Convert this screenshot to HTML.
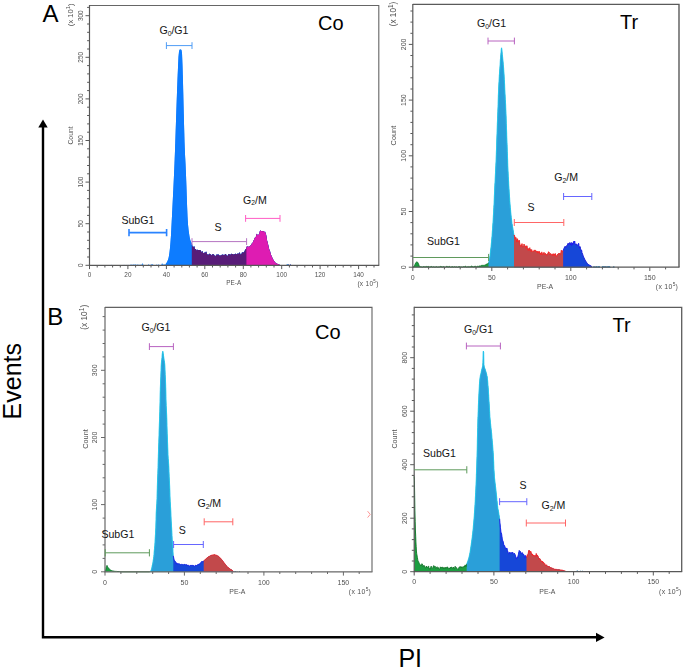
<!DOCTYPE html>
<html><head><meta charset="utf-8"><title>Cell cycle</title>
<style>html,body{margin:0;padding:0;background:#fff}svg{display:block}</style></head>
<body>
<svg width="685" height="668" viewBox="0 0 685 668" style="font-family:'Liberation Sans',Arial,Helvetica,sans-serif">
<rect width="685" height="668" fill="#fff"/>
<defs><filter id="soft" x="0" y="0" width="685" height="668" filterUnits="userSpaceOnUse"><feGaussianBlur stdDeviation="0.35"/></filter></defs>
<g filter="url(#soft)">
<path d="M89.5 265.3L108.5 265.3L109 265.1L110 265.1L110.5 265.3L111 265.2L111.5 264.7L112 265L112.5 265.1L113 265.1L113.5 265.3L114 265.3L114.5 265L115 265.1L115.5 265.3L116 265.2L116.5 265.1L117 264.9L117.5 265L118 265.2L118.5 265L119 265.3L119.5 265.3L120 265.2L120.5 265.1L121 265L121.5 265.3L122 265.3L122.5 265.2L123 265.3L123.5 265.3L124 264.7L124.5 265L125 265L125.5 264.9L126 265.1L126.5 265.3L127 264.8L127.5 265.3L128 265.3L128.5 264.8L129 265.3L129.5 265.3L130 265L130.5 264.7L131 264.2L131.5 264.6L132 265.3L132.5 264.9L133 263.9L133.5 264.6L134 264.9L134.5 264.6L135 264.5L135.5 264.5L136 264.2L136.5 265L137 265.1L137.5 264.2L138 264.7L138.5 264.4L139 265.3L139.5 265.3L140 264.1L140.5 265.1L141 265.1L141.5 264.7L142 263.8L142.5 263.3L143 263.8L143.5 264.9L144 265.3L144.5 265.2L145 265.2L145.5 265.3L146 265.3L146.5 265.2L147 265.2L147.5 265.3L148 265.3L148.5 264.1L149 264.3L149.5 265.3L150 265.1L150.5 264.8L151 264.8L151.5 264.2L152 263.9L152.5 263.9L153 264.9L153.5 264.7L154 265.1L154.5 265.3L155 265.1L155.5 265.3L156 265L156.5 264.6L157 264.4L157.5 265L158 265.1L158.5 264.2L159 264.5L159.5 265.3L161 265.3L161.5 264.3L162 263.3L162.5 263.6L163 264.2L163.5 264.7L164 264.2L164.5 264.2L165 264.8L165.5 264.3L166 263.6L166.5 262.9L167 262.1L167.5 261L168 259.7L168.5 258.2L169 255.8L169.5 252.2L170 247.9L170.5 242.3L171 235.2L171.5 225.8L172 216L172.5 205.9L173 196L173.5 185.9L174 175.3L174.5 163.9L175 151L175.5 136.6L176 121.2L176.5 106.7L177 92.5L177.5 79.6L178 67.8L178.5 57.1L179 51.7L179.5 49.7L180 49.5L181 49.5L181.5 50.3L182 53.3L182.5 66L183 83L183.5 103.9L184 123.6L184.5 142L185 154.5L185.5 163.8L186 175.2L186.5 188.8L187 203.9L187.5 216.4L188 224.5L188.5 229.5L189 233.3L189.5 236.5L190 239.1L190.5 240.7L191 241.8L191.5 242.8L192 243.7L192.5 246.4L193 246.6L193.5 247.1L194 246.3L194.5 246.6L195 249.2L195.5 249L196 249L196.5 250.6L197 250.1L197.5 249.4L198 250.3L198.5 250.1L199 250L199.5 250.1L200 250.1L200.5 250.3L201 250.7L201.5 252.4L202 251.3L202.5 251.1L203 252.7L203.5 252.9L204 253L204.5 252.6L205 252.5L205.5 252.4L206 251.6L206.5 252.1L207 253.9L207.5 254.6L208 254.4L208.5 254.7L209 254L209.5 253.5L210 254.2L210.5 254.1L211 254.8L211.5 255.4L212 254.5L212.5 253.9L213 254.5L213.5 254.1L214 254.6L214.5 255.7L215 255.3L215.5 256.5L216 255.5L216.5 254L217 255.4L217.5 254.6L218 253.9L218.5 254.6L219 255.2L219.5 255.3L220 255.8L220.5 255.4L221 254.9L221.5 255.2L222 254.5L222.5 254.4L223 254.8L223.5 254.8L224 255.3L224.5 255L225 254L225.5 254L226 254.2L226.5 254.9L227 255.7L227.5 255.9L228 254.8L228.5 254.1L229 254L229.5 254.1L230 255L230.5 254.5L231 253.7L231.5 253.7L232 254L232.5 253.9L233 253.9L233.5 254.5L234 254.5L234.5 254L235 254L235.5 253.6L236 253.9L236.5 254.2L237 254L237.5 253.7L238 253.1L238.5 253.7L239 253.8L239.5 252.1L240 253.1L240.5 254.6L241 254.2L241.5 253.8L242 252.2L242.5 251.9L243 252.9L243.5 252.3L244 252L244.5 251.2L245 250.1L245.5 249.3L246 249.1L246.5 247.6L247 246.1L247.5 246.8L248 246.6L248.5 246.8L249 246.9L249.5 246.2L250 245.9L250.5 245.4L251 245.1L251.5 244.5L252 243L252.5 242.9L253 241.9L253.5 240.7L254 239.7L254.5 238.4L255 237.4L255.5 237.1L256 236.7L256.5 234.3L257 233.7L257.5 234.9L258 235L258.5 234.7L259 234.2L259.5 232.7L260 230.6L260.5 230.6L261 231.2L261.5 231L262 231.2L262.5 231.2L263 231.3L263.5 231L264 231.8L264.5 232L265 231.5L265.5 233L266 234.2L266.5 236.8L267 240.2L267.5 242.1L268 244L268.5 246.3L269 248.4L269.5 250.2L270 251L270.5 253.3L271 255.1L271.5 255.7L272 257L272.5 258.2L273 259.2L273.5 260L274 260.8L274.5 261.5L275 262.2L275.5 262.7L276 263L276.5 263.4L277 263.6L277.5 263.9L278 264.1L278.5 264.3L279 264.5L279.5 264.7L280 264.9L280.5 265.1L281 265.3L282.5 265.3L283 265.1L283.5 265.2L284 265.3L284.5 265.3L285 265.2L285.5 265.3L286 265.3L286.5 265.2L287 264.6L287.5 264.1L288 264.1L288.5 264.8L289 265.3L289.5 265.3L290 264.8L290.5 264.3L291 264.9L291.5 265.3L292 265.3Z" fill="#3b97ff"/>
<path d="M165.8 265.3L165.8 263.9L166 263.6L166.5 262.9L167 262.1L167.5 261L168 259.7L168.5 258.2L169 255.8L169.5 252.2L170 247.9L170.5 242.3L171 235.2L171.5 225.8L172 216L172.5 205.9L173 196L173.5 185.9L174 175.3L174.5 163.9L175 151L175.5 136.6L176 121.2L176.5 106.7L177 92.5L177.5 79.6L178 67.8L178.5 57.1L179 51.7L179.5 49.7L180 49.5L181 49.5L181.5 50.3L182 53.3L182.5 66L183 83L183.5 103.9L184 123.6L184.5 142L185 154.5L185.5 163.8L186 175.2L186.5 188.8L187 203.9L187.5 216.4L188 224.5L188.5 229.5L189 233.3L189.5 236.5L190 239.1L190.5 240.7L191 241.8L191.5 242.8L192 243.7L192.5 246.4L193 246.6L193.5 247.1L194 246.3L194.5 246.6L195 249.2L195.5 249L196 249L196.5 250.6L197 250.1L197.5 249.4L198 250.3L198.5 250.1L199 250L199.5 250.1L200 250.1L200.5 250.3L201 250.7L201.5 252.4L202 251.3L202.5 251.1L203 252.7L203.5 252.9L204 253L204.5 252.6L205 252.5L205.5 252.4L206 251.6L206.5 252.1L207 253.9L207.5 254.6L208 254.4L208.5 254.7L209 254L209.5 253.5L210 254.2L210.5 254.1L211 254.8L211.5 255.4L212 254.5L212.5 253.9L213 254.5L213.5 254.1L214 254.6L214.5 255.7L215 255.3L215.5 256.5L216 255.5L216.5 254L217 255.4L217.5 254.6L218 253.9L218.5 254.6L219 255.2L219.5 255.3L220 255.8L220.5 255.4L221 254.9L221.5 255.2L222 254.5L222.5 254.4L223 254.8L223.5 254.8L224 255.3L224.5 255L225 254L225.5 254L226 254.2L226.5 254.9L227 255.7L227.5 255.9L228 254.8L228.5 254.1L229 254L229.5 254.1L230 255L230.5 254.5L231 253.7L231.5 253.7L232 254L232.5 253.9L233 253.9L233.5 254.5L234 254.5L234.5 254L235 254L235.5 253.6L236 253.9L236.5 254.2L237 254L237.5 253.7L238 253.1L238.5 253.7L239 253.8L239.5 252.1L240 253.1L240.5 254.6L241 254.2L241.5 253.8L242 252.2L242.5 251.9L243 252.9L243.5 252.3L244 252L244.5 251.2L245 250.1L245.5 249.3L246 249.1L246.5 247.6L247 246.1L247.5 246.8L248 246.6L248.5 246.8L249 246.9L249.5 246.2L250 245.9L250.5 245.4L251 245.1L251.5 244.5L252 243L252.5 242.9L253 241.9L253.5 240.7L254 239.7L254.5 238.4L255 237.4L255.5 237.1L256 236.7L256.5 234.3L257 233.7L257.5 234.9L258 235L258.5 234.7L259 234.2L259.5 232.7L260 230.6L260.5 230.6L261 231.2L261.5 231L262 231.2L262.5 231.2L263 231.3L263.5 231L264 231.8L264.5 232L265 231.5L265.5 233L266 234.2L266.5 236.8L267 240.2L267.5 242.1L268 244L268.5 246.3L269 248.4L269.5 250.2L270 251L270.5 253.3L271 255.1L271.5 255.7L272 257L272.5 258.2L273 259.2L273.5 260L274 260.8L274.5 261.5L275 262.2L275.5 262.7L276 263L276.5 263.4L277 263.6L277.5 263.9L278 264.1L278.5 264.3L279 264.5L279.5 264.7L280 264.9L280.5 265.1L281 265.3L282.5 265.3L283 265.1L283.5 265.2L284 265.3L284.5 265.3L285 265.2L285.5 265.3L286 265.3L286.5 265.2L287 264.6L287.5 264.1L288 264.1L288.5 264.8L289 265.3L289.5 265.3L290 264.8L290.5 264.3L291 264.9L291.5 265.3L292 265.3Z" fill="#0a7bff"/>
<path d="M191.8 265.3L191.8 243.3L192 243.7L192.5 246.4L193 246.6L193.5 247.1L194 246.3L194.5 246.6L195 249.2L195.5 249L196 249L196.5 250.6L197 250.1L197.5 249.4L198 250.3L198.5 250.1L199 250L199.5 250.1L200 250.1L200.5 250.3L201 250.7L201.5 252.4L202 251.3L202.5 251.1L203 252.7L203.5 252.9L204 253L204.5 252.6L205 252.5L205.5 252.4L206 251.6L206.5 252.1L207 253.9L207.5 254.6L208 254.4L208.5 254.7L209 254L209.5 253.5L210 254.2L210.5 254.1L211 254.8L211.5 255.4L212 254.5L212.5 253.9L213 254.5L213.5 254.1L214 254.6L214.5 255.7L215 255.3L215.5 256.5L216 255.5L216.5 254L217 255.4L217.5 254.6L218 253.9L218.5 254.6L219 255.2L219.5 255.3L220 255.8L220.5 255.4L221 254.9L221.5 255.2L222 254.5L222.5 254.4L223 254.8L223.5 254.8L224 255.3L224.5 255L225 254L225.5 254L226 254.2L226.5 254.9L227 255.7L227.5 255.9L228 254.8L228.5 254.1L229 254L229.5 254.1L230 255L230.5 254.5L231 253.7L231.5 253.7L232 254L232.5 253.9L233 253.9L233.5 254.5L234 254.5L234.5 254L235 254L235.5 253.6L236 253.9L236.5 254.2L237 254L237.5 253.7L238 253.1L238.5 253.7L239 253.8L239.5 252.1L240 253.1L240.5 254.6L241 254.2L241.5 253.8L242 252.2L242.5 251.9L243 252.9L243.5 252.3L244 252L244.5 251.2L245 250.1L245.5 249.3L246 249.1L246.5 247.6L247 246.1L247.5 246.8L248 246.6L248.5 246.8L249 246.9L249.5 246.2L250 245.9L250.5 245.4L251 245.1L251.5 244.5L252 243L252.5 242.9L253 241.9L253.5 240.7L254 239.7L254.5 238.4L255 237.4L255.5 237.1L256 236.7L256.5 234.3L257 233.7L257.5 234.9L258 235L258.5 234.7L259 234.2L259.5 232.7L260 230.6L260.5 230.6L261 231.2L261.5 231L262 231.2L262.5 231.2L263 231.3L263.5 231L264 231.8L264.5 232L265 231.5L265.5 233L266 234.2L266.5 236.8L267 240.2L267.5 242.1L268 244L268.5 246.3L269 248.4L269.5 250.2L270 251L270.5 253.3L271 255.1L271.5 255.7L272 257L272.5 258.2L273 259.2L273.5 260L274 260.8L274.5 261.5L275 262.2L275.5 262.7L276 263L276.5 263.4L277 263.6L277.5 263.9L278 264.1L278.5 264.3L279 264.5L279.5 264.7L280 264.9L280.5 265.1L281 265.3L282.5 265.3L283 265.1L283.5 265.2L284 265.3L284.5 265.3L285 265.2L285.5 265.3L286 265.3L286.5 265.2L287 264.6L287.5 264.1L288 264.1L288.5 264.8L289 265.3L289.5 265.3L290 264.8L290.5 264.3L291 264.9L291.5 265.3L292 265.3Z" fill="#591a78"/>
<path d="M246.4 265.3L246.4 247.9L246.5 247.6L247 246.1L247.5 246.8L248 246.6L248.5 246.8L249 246.9L249.5 246.2L250 245.9L250.5 245.4L251 245.1L251.5 244.5L252 243L252.5 242.9L253 241.9L253.5 240.7L254 239.7L254.5 238.4L255 237.4L255.5 237.1L256 236.7L256.5 234.3L257 233.7L257.5 234.9L258 235L258.5 234.7L259 234.2L259.5 232.7L260 230.6L260.5 230.6L261 231.2L261.5 231L262 231.2L262.5 231.2L263 231.3L263.5 231L264 231.8L264.5 232L265 231.5L265.5 233L266 234.2L266.5 236.8L267 240.2L267.5 242.1L268 244L268.5 246.3L269 248.4L269.5 250.2L270 251L270.5 253.3L271 255.1L271.5 255.7L272 257L272.5 258.2L273 259.2L273.5 260L274 260.8L274.5 261.5L275 262.2L275.5 262.7L276 263L276.5 263.4L277 263.6L277.5 263.9L278 264.1L278.5 264.3L279 264.5L279.5 264.7L280 264.9L280.5 265.1L281 265.3L282.5 265.3L283 265.1L283.5 265.2L284 265.3L284.5 265.3L285 265.2L285.5 265.3L286 265.3L286.5 265.2L287 264.6L287.5 264.1L288 264.1L288.5 264.8L289 265.3L289.5 265.3L290 264.8L290.5 264.3L291 264.9L291.5 265.3L292 265.3Z" fill="#de1ab2"/>
<path d="M281 265.3L282.5 265.3L283 265.1L283.5 265.2L284 265.3L284.5 265.3L285 265.2L285.5 265.3L286 265.3L286.5 265.2L287 264.6L287.5 264.1L288 264.1L288.5 264.8L289 265.3L289.5 265.3L290 264.8L290.5 264.3L291 264.9L291.5 265.3L292 265.3Z" fill="#35c8ee"/>
<path d="M89.5 5.5H378.8V265.3" fill="none" stroke="#666" stroke-width="1.1"/>
<path d="M89.5 5V265.3H379.3" fill="none" stroke="#595959" stroke-width="1.2"/>
<path d="M89.5 265.3v3.8M127.9 265.3v3.8M166.4 265.3v3.8M204.8 265.3v3.8M243.3 265.3v3.8M281.7 265.3v3.8M320.1 265.3v3.8M358.6 265.3v3.8M97.2 265.3v2.2M104.9 265.3v2.2M112.6 265.3v2.2M120.3 265.3v2.2M135.6 265.3v2.2M143.3 265.3v2.2M151 265.3v2.2M158.7 265.3v2.2M174.1 265.3v2.2M181.8 265.3v2.2M189.4 265.3v2.2M197.1 265.3v2.2M212.5 265.3v2.2M220.2 265.3v2.2M227.9 265.3v2.2M235.6 265.3v2.2M250.9 265.3v2.2M258.6 265.3v2.2M266.3 265.3v2.2M274 265.3v2.2M289.4 265.3v2.2M297.1 265.3v2.2M304.8 265.3v2.2M312.5 265.3v2.2M327.8 265.3v2.2M335.5 265.3v2.2M343.2 265.3v2.2M350.9 265.3v2.2M366.3 265.3v2.2M374 265.3v2.2M89.5 265.3h-4M89.5 223.7h-4M89.5 182.1h-4M89.5 140.5h-4M89.5 98.9h-4M89.5 57.3h-4M89.5 15.7h-4M89.5 257h-2.4M89.5 248.7h-2.4M89.5 240.3h-2.4M89.5 232h-2.4M89.5 215.4h-2.4M89.5 207.1h-2.4M89.5 198.7h-2.4M89.5 190.4h-2.4M89.5 173.8h-2.4M89.5 165.5h-2.4M89.5 157.1h-2.4M89.5 148.8h-2.4M89.5 132.2h-2.4M89.5 123.9h-2.4M89.5 115.5h-2.4M89.5 107.2h-2.4M89.5 90.6h-2.4M89.5 82.3h-2.4M89.5 73.9h-2.4M89.5 65.6h-2.4M89.5 49h-2.4M89.5 40.7h-2.4M89.5 32.3h-2.4M89.5 24h-2.4M89.5 7.4h-2.4" stroke="#595959" stroke-width="1" fill="none"/>
<text x="89.5" y="276.9" font-size="6.4" text-anchor="middle" fill="#505050">0</text>
<text x="127.9" y="276.9" font-size="6.4" text-anchor="middle" fill="#505050">20</text>
<text x="166.4" y="276.9" font-size="6.4" text-anchor="middle" fill="#505050">40</text>
<text x="204.8" y="276.9" font-size="6.4" text-anchor="middle" fill="#505050">60</text>
<text x="243.3" y="276.9" font-size="6.4" text-anchor="middle" fill="#505050">80</text>
<text x="281.7" y="276.9" font-size="6.4" text-anchor="middle" fill="#505050">100</text>
<text x="320.1" y="276.9" font-size="6.4" text-anchor="middle" fill="#505050">120</text>
<text x="358.6" y="276.9" font-size="6.4" text-anchor="middle" fill="#505050">140</text>
<text transform="translate(82.7 265.3) rotate(-90)" font-size="6.4" text-anchor="middle" fill="#505050">0</text>
<text transform="translate(82.7 223.7) rotate(-90)" font-size="6.4" text-anchor="middle" fill="#505050">50</text>
<text transform="translate(82.7 182.1) rotate(-90)" font-size="6.4" text-anchor="middle" fill="#505050">100</text>
<text transform="translate(82.7 140.5) rotate(-90)" font-size="6.4" text-anchor="middle" fill="#505050">150</text>
<text transform="translate(82.7 98.9) rotate(-90)" font-size="6.4" text-anchor="middle" fill="#505050">200</text>
<text transform="translate(82.7 57.3) rotate(-90)" font-size="6.4" text-anchor="middle" fill="#505050">250</text>
<text transform="translate(82.7 15.7) rotate(-90)" font-size="6.4" text-anchor="middle" fill="#505050">300</text>
<text x="233.8" y="284.9" font-size="6.4" text-anchor="middle" fill="#505050">PE-A</text>
<text x="368" y="285.7" font-size="6.5" letter-spacing="0.3" text-anchor="middle" fill="#505050">(x 10<tspan font-size="4.5" dy="-3.1">5</tspan><tspan dy="3.1">)</tspan></text>
<text transform="translate(73.3 14.8) rotate(-90)" font-size="7.6" text-anchor="middle" fill="#505050">(x 10<tspan font-size="5.9" dy="-3.3">1</tspan><tspan dy="3.3">)</tspan></text>
<text transform="translate(72.9 135.5) rotate(-90)" font-size="6.8" text-anchor="middle" fill="#505050">Count</text>
<path d="M129 232.6H166.6M129 229V236.2M166.6 229V236.2" stroke="#2b83ff" stroke-width="1.6" fill="none"/>
<path d="M166.4 45.6H192M166.4 42.2V49M192 42.2V49" stroke="#4f9cf5" stroke-width="1.0" fill="none"/>
<path d="M192 241.6H246.6M192 238.2V245M246.6 238.2V245" stroke="#b574c2" stroke-width="1.0" fill="none"/>
<path d="M245.6 218.4H280M245.6 215V221.8M280 215V221.8" stroke="#ff5cc4" stroke-width="1.0" fill="none"/>
<path d="M412.8 267.2L413.6 267.2L413.8 266.4L414.1 266.2L414.3 265.8L414.6 265.6L414.8 264.7L415.1 264.4L415.3 263.8L415.6 263.1L415.8 263.1L416.1 262.5L416.3 262.2L416.6 262L416.8 261.8L417.1 262.1L417.3 262.1L417.6 262.4L417.8 262.6L418.1 262.9L418.3 263.4L418.6 264.1L418.8 264.8L419.1 265.5L419.3 266.2L419.6 266.6L419.8 266.7L420.1 266.8L420.3 266.8L420.6 266.6L420.8 266.7L421.3 266.7L421.6 266.9L422.1 266.9L422.3 267L422.6 267L422.8 266.9L423.1 266.8L423.3 266.6L423.6 266.6L423.8 266.7L424.1 266.8L424.3 266.6L424.6 266.9L424.8 266.8L425.1 266.8L425.3 266.9L425.6 266.7L425.8 266.5L426.1 266.4L426.3 266.5L426.6 266.4L426.8 266.7L427.1 266.8L427.3 266.8L427.6 266.7L427.8 266.6L428.1 266.6L428.3 266.5L428.6 266.6L428.8 266.6L429.1 266.8L429.3 266.7L429.6 266.9L429.8 267.1L430.1 266.9L430.3 266.9L430.6 266.7L430.8 266.7L431.1 266.6L431.3 266.4L431.6 266.6L431.8 266.5L432.1 266.7L432.3 267L432.6 267.1L432.8 267.2L433.1 267.2L433.3 267.1L433.6 266.7L433.8 266.6L434.1 266.9L434.3 266.9L434.6 267.1L434.8 267L435.1 266.8L435.3 266.9L435.6 267L435.8 266.9L436.1 266.8L436.3 266.8L436.6 266.6L436.8 266.9L437.1 267L437.3 266.9L437.6 267.1L437.8 267.1L438.1 267L438.3 267L438.6 266.9L438.8 266.8L439.1 267L439.3 267.1L439.6 266.7L439.8 266.7L440.1 266.4L440.3 266.4L440.6 266.6L440.8 266.4L441.1 266.5L441.3 266.5L441.6 266.8L441.8 266.8L442.1 267L442.3 267.1L442.6 266.8L442.8 266.7L443.1 266.6L443.3 266.4L443.6 266.7L443.8 266.8L444.1 266.9L444.3 267L444.8 267L445.1 267.2L445.3 267.1L445.6 267L445.8 266.8L446.1 266.6L446.3 266.5L446.6 266.3L446.8 266.6L447.1 266.7L447.3 266.6L447.6 266.7L447.8 266.6L448.1 266.8L448.6 266.8L448.8 266.9L449.1 266.5L449.3 266.4L449.6 266.5L449.8 266.6L450.1 266.9L450.3 267L450.6 267.1L450.8 267.1L451.1 267L451.3 267L451.6 266.8L451.8 266.7L452.1 266.7L452.3 266.6L452.6 266.7L452.8 267L453.1 266.8L453.3 267.1L453.6 267.2L453.8 266.9L454.1 266.9L454.3 266.7L454.6 266.7L454.8 266.8L455.1 267.1L455.3 267L455.6 266.9L455.8 266.8L456.1 266.7L456.3 266.8L456.6 266.8L456.8 266.9L457.1 267L457.3 267L457.6 267.2L457.8 267.1L458.1 266.9L458.3 266.8L459.1 266.8L459.3 266.7L459.6 266.7L459.8 266.6L460.1 266.7L460.3 267.1L460.6 267.1L460.8 267.2L461.1 267.2L461.3 267L461.6 266.9L461.8 266.8L462.1 266.9L462.3 267L462.6 266.9L462.8 267L463.1 266.8L463.3 266.7L463.6 266.6L463.8 266.7L464.1 266.9L464.3 266.7L464.6 266.7L464.8 266.6L465.1 266.3L465.3 266.2L465.6 266.3L465.8 266.3L466.1 266.7L466.3 267L466.6 267.2L466.8 267.1L467.1 266.9L467.3 266.8L467.6 266.7L467.8 266.9L468.1 266.8L468.3 266.9L468.6 266.7L468.8 266.5L469.1 266.6L469.3 266.6L469.6 266.9L470.3 266.9L470.6 266.6L470.8 266.5L471.1 266.4L471.3 266L471.6 266.1L471.8 266L472.1 266.1L472.3 266.5L472.6 266.5L472.8 266.8L473.1 267.1L473.3 266.9L473.6 266.8L473.8 266.8L474.1 266.3L474.3 266.4L475.8 266.4L476.1 266.6L476.3 266.7L476.8 266.7L477.1 266.5L477.3 266.5L477.6 266.3L477.8 266.2L478.1 266.4L478.3 266.2L478.6 266.3L478.8 266.2L479.1 266L479.3 265.9L479.6 266L479.8 266.1L480.1 265.9L480.3 265.9L480.6 266L480.8 265.9L481.1 265.8L481.3 265.6L481.6 265.3L482.1 265.3L482.3 265.4L482.6 265.4L482.8 265.2L483.1 265.3L483.3 265.1L483.6 265.2L483.8 265.4L484.3 265.4L484.6 265.2L484.8 265.1L485.1 265L485.3 264.9L485.6 264.7L485.8 264.6L486.1 264.3L486.3 264.2L486.6 264.3L486.8 264.1L487.1 263.9L487.3 264.1L487.6 263.7L487.8 263.6L488.1 263.3L488.3 263L488.6 262.6L488.8 262L489.1 261L489.3 259.8L489.6 258.5L489.8 257.1L490.1 255.3L490.3 253.2L490.6 251L490.8 248.7L491.1 246.4L491.3 244L491.6 241.4L491.8 238.5L492.1 235.4L492.3 232.1L492.6 228.6L492.8 224.9L493.1 221L493.3 216.8L493.6 212.4L493.8 207.7L494.1 202.8L494.3 197.2L494.6 191.4L494.8 185.8L495.1 180.8L495.3 176L495.6 171.1L495.8 165.7L496.1 160L496.3 153.8L496.6 146.9L496.8 138.9L497.1 131.1L497.3 124.4L497.6 118.3L497.8 111.8L498.1 104.2L498.3 96.4L498.6 90.3L498.8 84.9L499.1 80.1L499.3 75.8L499.6 72.1L499.8 68.7L500.1 64.8L500.3 60.6L500.6 57.4L500.8 54.8L501.1 51.7L501.3 48.9L501.6 47.8L501.8 48.9L502.1 51.8L502.3 54.7L502.6 56.9L502.8 59.2L503.1 61.8L503.3 64.7L503.6 67.8L503.8 71.2L504.1 75L504.3 79.4L504.6 84.4L504.8 89.7L505.1 94.8L505.3 99.5L505.6 104.2L505.8 109.5L506.1 115.8L506.3 123.6L506.6 131.1L506.8 137.9L507.1 144.6L507.3 151.6L507.6 159.3L507.8 166.2L508.1 171.8L508.3 176.8L508.6 181.5L508.8 185.8L509.1 190L509.3 194L509.6 197.8L509.8 201.3L510.1 204.4L510.3 207.4L510.6 210.2L510.8 212.8L511.1 215.4L511.3 217.7L511.6 219.8L511.8 221.8L512 223.5L512.3 225.1L512.5 226.5L512.8 227.9L513 229.2L513.3 230.7L513.5 232.4L513.8 234.1L514 235.1L514.3 235.7L514.5 235.3L514.8 236.5L515 237.4L515.3 238.6L515.5 237.8L515.8 237.6L516 237.4L516.3 239.6L516.5 239.7L516.8 242.1L517 240.3L517.3 240.7L517.5 238.7L517.8 240.9L518 241.8L518.3 241.7L518.5 241.2L518.8 240.5L519 240.4L519.3 240.1L519.5 242L519.8 243.8L520 245.2L520.3 244.9L520.5 245.9L520.8 246.8L521 246.9L521.3 246.2L521.5 244.8L521.8 244.7L522 243.6L522.3 245.4L522.5 246.4L522.8 247.3L523 246.5L523.3 246.4L523.5 246.2L523.8 245.4L524 244L524.3 244.9L524.5 245.8L524.8 246.6L525 246.4L525.3 245.8L525.5 246.4L525.8 246.3L526 248.6L526.3 247.8L526.5 247.1L526.8 245.8L527 245.7L527.3 248L527.5 248.4L527.8 250.2L528 249.1L528.3 248.7L528.5 248.7L528.8 249.7L529 250.6L529.3 248.3L529.5 248L529.8 247.7L530 249.3L530.3 249.2L530.5 249.6L530.8 250.9L531 251.7L531.3 250.6L531.5 249.7L531.8 249.6L532 251.7L532.3 252L532.5 251.8L532.8 251.4L533 250.9L533.3 251.4L533.5 251.1L533.8 251.2L534 250.7L534.3 249.9L534.5 250.7L534.8 251.2L535 251.7L535.3 251.5L535.5 250.4L535.8 250.5L536 250.7L536.3 251.3L536.5 251.2L536.8 252L537 252.4L537.3 253.1L537.5 251.6L537.8 251.9L538 251.1L538.3 252.8L538.5 252.5L538.8 252.6L539 252L539.3 251.3L539.5 253.4L539.8 253.3L540 254L540.3 252.8L540.5 253.8L540.8 253.6L541 255L541.3 253.6L541.5 253.9L541.8 251.9L542 252.7L542.3 253.6L542.5 254.6L542.8 254.8L543 253.8L543.3 253.7L543.5 253.2L543.8 253.3L544 252.3L544.3 253.8L544.5 254.4L544.8 254.9L545 253.3L545.3 253.4L545.5 254L545.8 254.5L546 254.1L546.3 254.3L546.5 254.7L546.8 255.5L547 255.4L547.3 254.2L547.5 254.2L547.8 253.4L548 253.1L548.3 252.5L548.5 251.7L548.8 252.9L549 252.1L549.3 253.5L549.5 254.2L549.8 255L550 253.9L550.3 253.6L550.5 253.5L550.8 255.2L551 255.4L551.3 255.4L551.5 255L551.8 254.2L552 253.8L552.3 254.4L552.5 255.1L552.8 255.9L553 254L553.3 253.8L553.5 254.1L553.8 255.2L554 253.9L554.3 254L554.5 254.4L554.8 255.5L555 254.8L555.3 253.5L555.5 254.2L555.8 255.5L556 256.6L556.3 255.6L556.5 255.9L556.8 256.2L557 256L557.3 255L557.5 254.3L557.8 254.7L558 253.9L558.3 253.8L558.5 253.7L558.8 253.2L559 253.7L559.3 253.6L559.5 253.6L559.8 253.4L560 253.6L560.3 254.6L560.5 254.7L560.8 253.1L561 252.2L561.3 250.2L561.5 250.8L561.8 250.8L562 251.9L562.3 252L562.5 251.8L562.8 250.7L563 251.1L563.3 250.4L563.5 250L563.8 248.7L564 248.4L564.3 247.9L564.5 247.1L564.8 246.7L565 246.8L565.3 247.3L565.5 246.6L565.8 246.5L566 247L566.3 247.4L566.5 246.7L566.8 245.4L567 245.6L567.3 245.4L567.5 245L567.8 243.9L568 243.3L568.3 243.8L568.5 243.7L568.8 244.8L569 243.8L569.3 243.3L569.5 242.7L569.8 242.8L570 244L570.3 243.8L570.5 245L570.8 243L571 242.5L571.3 242.7L571.5 245.8L571.8 245.6L572 245L572.3 242.8L572.5 244.4L572.8 243.6L573 244.3L573.3 242.8L573.5 242.9L573.8 241.4L574 242.2L574.3 241.1L574.5 242.2L574.8 241.4L575 243.4L575.3 244.7L575.5 244.5L575.8 244.4L576 243.7L576.3 244.8L576.5 244.8L576.8 244.6L577 245.5L577.3 245.8L577.5 245.5L577.8 245.3L578 244.2L578.3 244.6L578.5 243.3L578.8 243.7L579 245.7L579.3 247.4L579.5 248.3L579.8 246.8L580 246.6L580.3 247.3L580.5 248.5L580.8 249.7L581 249.6L581.3 250.5L581.5 250.1L581.8 250.9L582 252.7L582.3 253.3L582.5 254L582.8 254.7L583 255.4L583.3 256L583.5 256.6L583.8 257.2L584 257.7L584.3 258.3L584.5 258.8L584.8 259.3L585 259.9L585.3 260.3L585.5 260.8L585.8 261.2L586 261.6L586.3 262L586.5 262.4L586.8 262.7L587 263.1L587.3 263.4L587.5 263.7L587.8 263.9L588 264.2L588.3 264.4L588.5 264.5L588.8 264.7L589 264.9L589.3 265L589.5 265.1L589.8 265.3L590 265.4L590.3 265.5L590.5 265.7L590.8 265.8L591 266L591.3 266.1L591.5 266.3L591.8 266.5L592 267.1L592.3 267L592.5 267.2L592.8 267.2L593 266.9L593.3 266.7L593.5 266.7L593.8 266.8L594 266.9L594.3 267L594.5 266.7L594.8 266.6L595 266.6L595.3 266.7L595.5 267L595.8 267L596 266.8L596.3 266.6L596.5 266.2L596.8 266L597 266.4L597.3 266.7L597.5 266.9L597.8 267.2L598 266.7L598.3 266.3L598.5 266.3L598.8 266.1L599 266.4L599.3 266.5L599.5 266.5L599.8 266.9L600 267L600.3 267.2L601.3 267.2L601.5 267.1L601.8 266.9L602 266.7L602.3 266.7L602.5 266L602.8 266L603 266.7L603.3 266.6L603.5 266.7L603.8 266.7L604 266.5L604.3 266.5L604.5 266.7L604.8 267L605 266.8L605.5 266.8L605.8 266.6L606 266.8L606.3 266.8L606.5 266.9L606.8 266.8L607 266.8L607.3 266.7L607.5 266.9L607.8 266.5L608 266.4L608.3 266.4L608.5 266.1L608.8 266.4L609.3 266.4L609.5 266.6L609.8 266.8L610 266.8L610.3 266.9L610.5 267.2L610.8 266.9L611 267.2L611.3 267.2L611.5 267L611.8 267.2L612.5 267.2L612.8 267.1L613 267.1L613.3 266.8L613.5 266.7L613.8 266.7L614 266.5L614.3 266.9L614.5 267.2L614.8 267.2Z" fill="#1c9d40"/>
<path d="M488.5 267.2L488.5 262.7L488.6 262.6L488.8 262L489.1 261L489.3 259.8L489.6 258.5L489.8 257.1L490.1 255.3L490.3 253.2L490.6 251L490.8 248.7L491.1 246.4L491.3 244L491.6 241.4L491.8 238.5L492.1 235.4L492.3 232.1L492.6 228.6L492.8 224.9L493.1 221L493.3 216.8L493.6 212.4L493.8 207.7L494.1 202.8L494.3 197.2L494.6 191.4L494.8 185.8L495.1 180.8L495.3 176L495.6 171.1L495.8 165.7L496.1 160L496.3 153.8L496.6 146.9L496.8 138.9L497.1 131.1L497.3 124.4L497.6 118.3L497.8 111.8L498.1 104.2L498.3 96.4L498.6 90.3L498.8 84.9L499.1 80.1L499.3 75.8L499.6 72.1L499.8 68.7L500.1 64.8L500.3 60.6L500.6 57.4L500.8 54.8L501.1 51.7L501.3 48.9L501.6 47.8L501.8 48.9L502.1 51.8L502.3 54.7L502.6 56.9L502.8 59.2L503.1 61.8L503.3 64.7L503.6 67.8L503.8 71.2L504.1 75L504.3 79.4L504.6 84.4L504.8 89.7L505.1 94.8L505.3 99.5L505.6 104.2L505.8 109.5L506.1 115.8L506.3 123.6L506.6 131.1L506.8 137.9L507.1 144.6L507.3 151.6L507.6 159.3L507.8 166.2L508.1 171.8L508.3 176.8L508.6 181.5L508.8 185.8L509.1 190L509.3 194L509.6 197.8L509.8 201.3L510.1 204.4L510.3 207.4L510.6 210.2L510.8 212.8L511.1 215.4L511.3 217.7L511.6 219.8L511.8 221.8L512 223.5L512.3 225.1L512.5 226.5L512.8 227.9L513 229.2L513.3 230.7L513.5 232.4L513.8 234.1L514 235.1L514.3 235.7L514.5 235.3L514.8 236.5L515 237.4L515.3 238.6L515.5 237.8L515.8 237.6L516 237.4L516.3 239.6L516.5 239.7L516.8 242.1L517 240.3L517.3 240.7L517.5 238.7L517.8 240.9L518 241.8L518.3 241.7L518.5 241.2L518.8 240.5L519 240.4L519.3 240.1L519.5 242L519.8 243.8L520 245.2L520.3 244.9L520.5 245.9L520.8 246.8L521 246.9L521.3 246.2L521.5 244.8L521.8 244.7L522 243.6L522.3 245.4L522.5 246.4L522.8 247.3L523 246.5L523.3 246.4L523.5 246.2L523.8 245.4L524 244L524.3 244.9L524.5 245.8L524.8 246.6L525 246.4L525.3 245.8L525.5 246.4L525.8 246.3L526 248.6L526.3 247.8L526.5 247.1L526.8 245.8L527 245.7L527.3 248L527.5 248.4L527.8 250.2L528 249.1L528.3 248.7L528.5 248.7L528.8 249.7L529 250.6L529.3 248.3L529.5 248L529.8 247.7L530 249.3L530.3 249.2L530.5 249.6L530.8 250.9L531 251.7L531.3 250.6L531.5 249.7L531.8 249.6L532 251.7L532.3 252L532.5 251.8L532.8 251.4L533 250.9L533.3 251.4L533.5 251.1L533.8 251.2L534 250.7L534.3 249.9L534.5 250.7L534.8 251.2L535 251.7L535.3 251.5L535.5 250.4L535.8 250.5L536 250.7L536.3 251.3L536.5 251.2L536.8 252L537 252.4L537.3 253.1L537.5 251.6L537.8 251.9L538 251.1L538.3 252.8L538.5 252.5L538.8 252.6L539 252L539.3 251.3L539.5 253.4L539.8 253.3L540 254L540.3 252.8L540.5 253.8L540.8 253.6L541 255L541.3 253.6L541.5 253.9L541.8 251.9L542 252.7L542.3 253.6L542.5 254.6L542.8 254.8L543 253.8L543.3 253.7L543.5 253.2L543.8 253.3L544 252.3L544.3 253.8L544.5 254.4L544.8 254.9L545 253.3L545.3 253.4L545.5 254L545.8 254.5L546 254.1L546.3 254.3L546.5 254.7L546.8 255.5L547 255.4L547.3 254.2L547.5 254.2L547.8 253.4L548 253.1L548.3 252.5L548.5 251.7L548.8 252.9L549 252.1L549.3 253.5L549.5 254.2L549.8 255L550 253.9L550.3 253.6L550.5 253.5L550.8 255.2L551 255.4L551.3 255.4L551.5 255L551.8 254.2L552 253.8L552.3 254.4L552.5 255.1L552.8 255.9L553 254L553.3 253.8L553.5 254.1L553.8 255.2L554 253.9L554.3 254L554.5 254.4L554.8 255.5L555 254.8L555.3 253.5L555.5 254.2L555.8 255.5L556 256.6L556.3 255.6L556.5 255.9L556.8 256.2L557 256L557.3 255L557.5 254.3L557.8 254.7L558 253.9L558.3 253.8L558.5 253.7L558.8 253.2L559 253.7L559.3 253.6L559.5 253.6L559.8 253.4L560 253.6L560.3 254.6L560.5 254.7L560.8 253.1L561 252.2L561.3 250.2L561.5 250.8L561.8 250.8L562 251.9L562.3 252L562.5 251.8L562.8 250.7L563 251.1L563.3 250.4L563.5 250L563.8 248.7L564 248.4L564.3 247.9L564.5 247.1L564.8 246.7L565 246.8L565.3 247.3L565.5 246.6L565.8 246.5L566 247L566.3 247.4L566.5 246.7L566.8 245.4L567 245.6L567.3 245.4L567.5 245L567.8 243.9L568 243.3L568.3 243.8L568.5 243.7L568.8 244.8L569 243.8L569.3 243.3L569.5 242.7L569.8 242.8L570 244L570.3 243.8L570.5 245L570.8 243L571 242.5L571.3 242.7L571.5 245.8L571.8 245.6L572 245L572.3 242.8L572.5 244.4L572.8 243.6L573 244.3L573.3 242.8L573.5 242.9L573.8 241.4L574 242.2L574.3 241.1L574.5 242.2L574.8 241.4L575 243.4L575.3 244.7L575.5 244.5L575.8 244.4L576 243.7L576.3 244.8L576.5 244.8L576.8 244.6L577 245.5L577.3 245.8L577.5 245.5L577.8 245.3L578 244.2L578.3 244.6L578.5 243.3L578.8 243.7L579 245.7L579.3 247.4L579.5 248.3L579.8 246.8L580 246.6L580.3 247.3L580.5 248.5L580.8 249.7L581 249.6L581.3 250.5L581.5 250.1L581.8 250.9L582 252.7L582.3 253.3L582.5 254L582.8 254.7L583 255.4L583.3 256L583.5 256.6L583.8 257.2L584 257.7L584.3 258.3L584.5 258.8L584.8 259.3L585 259.9L585.3 260.3L585.5 260.8L585.8 261.2L586 261.6L586.3 262L586.5 262.4L586.8 262.7L587 263.1L587.3 263.4L587.5 263.7L587.8 263.9L588 264.2L588.3 264.4L588.5 264.5L588.8 264.7L589 264.9L589.3 265L589.5 265.1L589.8 265.3L590 265.4L590.3 265.5L590.5 265.7L590.8 265.8L591 266L591.3 266.1L591.5 266.3L591.8 266.5L592 267.1L592.3 267L592.5 267.2L592.8 267.2L593 266.9L593.3 266.7L593.5 266.7L593.8 266.8L594 266.9L594.3 267L594.5 266.7L594.8 266.6L595 266.6L595.3 266.7L595.5 267L595.8 267L596 266.8L596.3 266.6L596.5 266.2L596.8 266L597 266.4L597.3 266.7L597.5 266.9L597.8 267.2L598 266.7L598.3 266.3L598.5 266.3L598.8 266.1L599 266.4L599.3 266.5L599.5 266.5L599.8 266.9L600 267L600.3 267.2L601.3 267.2L601.5 267.1L601.8 266.9L602 266.7L602.3 266.7L602.5 266L602.8 266L603 266.7L603.3 266.6L603.5 266.7L603.8 266.7L604 266.5L604.3 266.5L604.5 266.7L604.8 267L605 266.8L605.5 266.8L605.8 266.6L606 266.8L606.3 266.8L606.5 266.9L606.8 266.8L607 266.8L607.3 266.7L607.5 266.9L607.8 266.5L608 266.4L608.3 266.4L608.5 266.1L608.8 266.4L609.3 266.4L609.5 266.6L609.8 266.8L610 266.8L610.3 266.9L610.5 267.2L610.8 266.9L611 267.2L611.3 267.2L611.5 267L611.8 267.2L612.5 267.2L612.8 267.1L613 267.1L613.3 266.8L613.5 266.7L613.8 266.7L614 266.5L614.3 266.9L614.5 267.2L614.8 267.2Z" fill="#2c9fd9"/>
<path d="M514 267.2L514 234.9L514 235.1L514.3 235.7L514.5 235.3L514.8 236.5L515 237.4L515.3 238.6L515.5 237.8L515.8 237.6L516 237.4L516.3 239.6L516.5 239.7L516.8 242.1L517 240.3L517.3 240.7L517.5 238.7L517.8 240.9L518 241.8L518.3 241.7L518.5 241.2L518.8 240.5L519 240.4L519.3 240.1L519.5 242L519.8 243.8L520 245.2L520.3 244.9L520.5 245.9L520.8 246.8L521 246.9L521.3 246.2L521.5 244.8L521.8 244.7L522 243.6L522.3 245.4L522.5 246.4L522.8 247.3L523 246.5L523.3 246.4L523.5 246.2L523.8 245.4L524 244L524.3 244.9L524.5 245.8L524.8 246.6L525 246.4L525.3 245.8L525.5 246.4L525.8 246.3L526 248.6L526.3 247.8L526.5 247.1L526.8 245.8L527 245.7L527.3 248L527.5 248.4L527.8 250.2L528 249.1L528.3 248.7L528.5 248.7L528.8 249.7L529 250.6L529.3 248.3L529.5 248L529.8 247.7L530 249.3L530.3 249.2L530.5 249.6L530.8 250.9L531 251.7L531.3 250.6L531.5 249.7L531.8 249.6L532 251.7L532.3 252L532.5 251.8L532.8 251.4L533 250.9L533.3 251.4L533.5 251.1L533.8 251.2L534 250.7L534.3 249.9L534.5 250.7L534.8 251.2L535 251.7L535.3 251.5L535.5 250.4L535.8 250.5L536 250.7L536.3 251.3L536.5 251.2L536.8 252L537 252.4L537.3 253.1L537.5 251.6L537.8 251.9L538 251.1L538.3 252.8L538.5 252.5L538.8 252.6L539 252L539.3 251.3L539.5 253.4L539.8 253.3L540 254L540.3 252.8L540.5 253.8L540.8 253.6L541 255L541.3 253.6L541.5 253.9L541.8 251.9L542 252.7L542.3 253.6L542.5 254.6L542.8 254.8L543 253.8L543.3 253.7L543.5 253.2L543.8 253.3L544 252.3L544.3 253.8L544.5 254.4L544.8 254.9L545 253.3L545.3 253.4L545.5 254L545.8 254.5L546 254.1L546.3 254.3L546.5 254.7L546.8 255.5L547 255.4L547.3 254.2L547.5 254.2L547.8 253.4L548 253.1L548.3 252.5L548.5 251.7L548.8 252.9L549 252.1L549.3 253.5L549.5 254.2L549.8 255L550 253.9L550.3 253.6L550.5 253.5L550.8 255.2L551 255.4L551.3 255.4L551.5 255L551.8 254.2L552 253.8L552.3 254.4L552.5 255.1L552.8 255.9L553 254L553.3 253.8L553.5 254.1L553.8 255.2L554 253.9L554.3 254L554.5 254.4L554.8 255.5L555 254.8L555.3 253.5L555.5 254.2L555.8 255.5L556 256.6L556.3 255.6L556.5 255.9L556.8 256.2L557 256L557.3 255L557.5 254.3L557.8 254.7L558 253.9L558.3 253.8L558.5 253.7L558.8 253.2L559 253.7L559.3 253.6L559.5 253.6L559.8 253.4L560 253.6L560.3 254.6L560.5 254.7L560.8 253.1L561 252.2L561.3 250.2L561.5 250.8L561.8 250.8L562 251.9L562.3 252L562.5 251.8L562.8 250.7L563 251.1L563.3 250.4L563.5 250L563.8 248.7L564 248.4L564.3 247.9L564.5 247.1L564.8 246.7L565 246.8L565.3 247.3L565.5 246.6L565.8 246.5L566 247L566.3 247.4L566.5 246.7L566.8 245.4L567 245.6L567.3 245.4L567.5 245L567.8 243.9L568 243.3L568.3 243.8L568.5 243.7L568.8 244.8L569 243.8L569.3 243.3L569.5 242.7L569.8 242.8L570 244L570.3 243.8L570.5 245L570.8 243L571 242.5L571.3 242.7L571.5 245.8L571.8 245.6L572 245L572.3 242.8L572.5 244.4L572.8 243.6L573 244.3L573.3 242.8L573.5 242.9L573.8 241.4L574 242.2L574.3 241.1L574.5 242.2L574.8 241.4L575 243.4L575.3 244.7L575.5 244.5L575.8 244.4L576 243.7L576.3 244.8L576.5 244.8L576.8 244.6L577 245.5L577.3 245.8L577.5 245.5L577.8 245.3L578 244.2L578.3 244.6L578.5 243.3L578.8 243.7L579 245.7L579.3 247.4L579.5 248.3L579.8 246.8L580 246.6L580.3 247.3L580.5 248.5L580.8 249.7L581 249.6L581.3 250.5L581.5 250.1L581.8 250.9L582 252.7L582.3 253.3L582.5 254L582.8 254.7L583 255.4L583.3 256L583.5 256.6L583.8 257.2L584 257.7L584.3 258.3L584.5 258.8L584.8 259.3L585 259.9L585.3 260.3L585.5 260.8L585.8 261.2L586 261.6L586.3 262L586.5 262.4L586.8 262.7L587 263.1L587.3 263.4L587.5 263.7L587.8 263.9L588 264.2L588.3 264.4L588.5 264.5L588.8 264.7L589 264.9L589.3 265L589.5 265.1L589.8 265.3L590 265.4L590.3 265.5L590.5 265.7L590.8 265.8L591 266L591.3 266.1L591.5 266.3L591.8 266.5L592 267.1L592.3 267L592.5 267.2L592.8 267.2L593 266.9L593.3 266.7L593.5 266.7L593.8 266.8L594 266.9L594.3 267L594.5 266.7L594.8 266.6L595 266.6L595.3 266.7L595.5 267L595.8 267L596 266.8L596.3 266.6L596.5 266.2L596.8 266L597 266.4L597.3 266.7L597.5 266.9L597.8 267.2L598 266.7L598.3 266.3L598.5 266.3L598.8 266.1L599 266.4L599.3 266.5L599.5 266.5L599.8 266.9L600 267L600.3 267.2L601.3 267.2L601.5 267.1L601.8 266.9L602 266.7L602.3 266.7L602.5 266L602.8 266L603 266.7L603.3 266.6L603.5 266.7L603.8 266.7L604 266.5L604.3 266.5L604.5 266.7L604.8 267L605 266.8L605.5 266.8L605.8 266.6L606 266.8L606.3 266.8L606.5 266.9L606.8 266.8L607 266.8L607.3 266.7L607.5 266.9L607.8 266.5L608 266.4L608.3 266.4L608.5 266.1L608.8 266.4L609.3 266.4L609.5 266.6L609.8 266.8L610 266.8L610.3 266.9L610.5 267.2L610.8 266.9L611 267.2L611.3 267.2L611.5 267L611.8 267.2L612.5 267.2L612.8 267.1L613 267.1L613.3 266.8L613.5 266.7L613.8 266.7L614 266.5L614.3 266.9L614.5 267.2L614.8 267.2Z" fill="#c2494c"/>
<path d="M563.1 267.2L563.1 250.9L563.3 250.4L563.5 250L563.8 248.7L564 248.4L564.3 247.9L564.5 247.1L564.8 246.7L565 246.8L565.3 247.3L565.5 246.6L565.8 246.5L566 247L566.3 247.4L566.5 246.7L566.8 245.4L567 245.6L567.3 245.4L567.5 245L567.8 243.9L568 243.3L568.3 243.8L568.5 243.7L568.8 244.8L569 243.8L569.3 243.3L569.5 242.7L569.8 242.8L570 244L570.3 243.8L570.5 245L570.8 243L571 242.5L571.3 242.7L571.5 245.8L571.8 245.6L572 245L572.3 242.8L572.5 244.4L572.8 243.6L573 244.3L573.3 242.8L573.5 242.9L573.8 241.4L574 242.2L574.3 241.1L574.5 242.2L574.8 241.4L575 243.4L575.3 244.7L575.5 244.5L575.8 244.4L576 243.7L576.3 244.8L576.5 244.8L576.8 244.6L577 245.5L577.3 245.8L577.5 245.5L577.8 245.3L578 244.2L578.3 244.6L578.5 243.3L578.8 243.7L579 245.7L579.3 247.4L579.5 248.3L579.8 246.8L580 246.6L580.3 247.3L580.5 248.5L580.8 249.7L581 249.6L581.3 250.5L581.5 250.1L581.8 250.9L582 252.7L582.3 253.3L582.5 254L582.8 254.7L583 255.4L583.3 256L583.5 256.6L583.8 257.2L584 257.7L584.3 258.3L584.5 258.8L584.8 259.3L585 259.9L585.3 260.3L585.5 260.8L585.8 261.2L586 261.6L586.3 262L586.5 262.4L586.8 262.7L587 263.1L587.3 263.4L587.5 263.7L587.8 263.9L588 264.2L588.3 264.4L588.5 264.5L588.8 264.7L589 264.9L589.3 265L589.5 265.1L589.8 265.3L590 265.4L590.3 265.5L590.5 265.7L590.8 265.8L591 266L591.3 266.1L591.5 266.3L591.8 266.5L592 267.1L592.3 267L592.5 267.2L592.8 267.2L593 266.9L593.3 266.7L593.5 266.7L593.8 266.8L594 266.9L594.3 267L594.5 266.7L594.8 266.6L595 266.6L595.3 266.7L595.5 267L595.8 267L596 266.8L596.3 266.6L596.5 266.2L596.8 266L597 266.4L597.3 266.7L597.5 266.9L597.8 267.2L598 266.7L598.3 266.3L598.5 266.3L598.8 266.1L599 266.4L599.3 266.5L599.5 266.5L599.8 266.9L600 267L600.3 267.2L601.3 267.2L601.5 267.1L601.8 266.9L602 266.7L602.3 266.7L602.5 266L602.8 266L603 266.7L603.3 266.6L603.5 266.7L603.8 266.7L604 266.5L604.3 266.5L604.5 266.7L604.8 267L605 266.8L605.5 266.8L605.8 266.6L606 266.8L606.3 266.8L606.5 266.9L606.8 266.8L607 266.8L607.3 266.7L607.5 266.9L607.8 266.5L608 266.4L608.3 266.4L608.5 266.1L608.8 266.4L609.3 266.4L609.5 266.6L609.8 266.8L610 266.8L610.3 266.9L610.5 267.2L610.8 266.9L611 267.2L611.3 267.2L611.5 267L611.8 267.2L612.5 267.2L612.8 267.1L613 267.1L613.3 266.8L613.5 266.7L613.8 266.7L614 266.5L614.3 266.9L614.5 267.2L614.8 267.2Z" fill="#1946d8"/>
<path d="M592 267.2L592 267L592 267.1L592.3 267L592.5 267.2L592.8 267.2L593 266.9L593.3 266.7L593.5 266.7L593.8 266.8L594 266.9L594.3 267L594.5 266.7L594.8 266.6L595 266.6L595.3 266.7L595.5 267L595.8 267L596 266.8L596.3 266.6L596.5 266.2L596.8 266L597 266.4L597.3 266.7L597.5 266.9L597.8 267.2L598 266.7L598.3 266.3L598.5 266.3L598.8 266.1L599 266.4L599.3 266.5L599.5 266.5L599.8 266.9L600 267L600.3 267.2L601.3 267.2L601.5 267.1L601.8 266.9L602 266.7L602.3 266.7L602.5 266L602.8 266L603 266.7L603.3 266.6L603.5 266.7L603.8 266.7L604 266.5L604.3 266.5L604.5 266.7L604.8 267L605 266.8L605.5 266.8L605.8 266.6L606 266.8L606.3 266.8L606.5 266.9L606.8 266.8L607 266.8L607.3 266.7L607.5 266.9L607.8 266.5L608 266.4L608.3 266.4L608.5 266.1L608.8 266.4L609.3 266.4L609.5 266.6L609.8 266.8L610 266.8L610.3 266.9L610.5 267.2L610.8 266.9L611 267.2L611.3 267.2L611.5 267L611.8 267.2L612.5 267.2L612.8 267.1L613 267.1L613.3 266.8L613.5 266.7L613.8 266.7L614 266.5L614.3 266.9L614.5 267.2L614.8 267.2Z" fill="#35c8ee"/>
<path d="M412.8 267.2L413.6 267.2L413.8 266.4L414.1 266.2L414.3 265.8L414.6 265.6L414.8 264.7L415.1 264.4L415.3 263.8L415.6 263.1L415.8 263.1L416.1 262.5L416.3 262.2L416.6 262L416.8 261.8L417.1 262.1L417.3 262.1L417.6 262.4L417.8 262.6L418.1 262.9L418.3 263.4L418.6 264.1L418.8 264.8L419.1 265.5L419.3 266.2L419.6 266.6L419.8 266.7L420.1 266.8L420.3 266.8L420.6 266.6L420.8 266.7L421.3 266.7L421.6 266.9L422.1 266.9L422.3 267L422.6 267L422.8 266.9L423.1 266.8L423.3 266.6L423.6 266.6L423.8 266.7L424.1 266.8L424.3 266.6L424.6 266.9L424.8 266.8L425.1 266.8L425.3 266.9L425.6 266.7L425.8 266.5L426.1 266.4L426.3 266.5L426.6 266.4L426.8 266.7L427.1 266.8L427.3 266.8L427.6 266.7L427.8 266.6L428.1 266.6L428.3 266.5L428.6 266.6L428.8 266.6L429.1 266.8L429.3 266.7L429.6 266.9L429.8 267.1L430.1 266.9L430.3 266.9L430.6 266.7L430.8 266.7L431.1 266.6L431.3 266.4L431.6 266.6L431.8 266.5L432.1 266.7L432.3 267L432.6 267.1L432.8 267.2L433.1 267.2L433.3 267.1L433.6 266.7L433.8 266.6L434.1 266.9L434.3 266.9L434.6 267.1L434.8 267L435.1 266.8L435.3 266.9L435.6 267L435.8 266.9L436.1 266.8L436.3 266.8L436.6 266.6L436.8 266.9L437.1 267L437.3 266.9L437.6 267.1L437.8 267.1L438.1 267L438.3 267L438.6 266.9L438.8 266.8L439.1 267L439.3 267.1L439.6 266.7L439.8 266.7L440.1 266.4L440.3 266.4L440.6 266.6L440.8 266.4L441.1 266.5L441.3 266.5L441.6 266.8L441.8 266.8L442.1 267L442.3 267.1L442.6 266.8L442.8 266.7L443.1 266.6L443.3 266.4L443.6 266.7L443.8 266.8L444.1 266.9L444.3 267L444.8 267L445.1 267.2L445.3 267.1L445.6 267L445.8 266.8L446.1 266.6L446.3 266.5L446.6 266.3L446.8 266.6L447.1 266.7L447.3 266.6L447.6 266.7L447.8 266.6L448.1 266.8L448.6 266.8L448.8 266.9L449.1 266.5L449.3 266.4L449.6 266.5L449.8 266.6L450.1 266.9L450.3 267L450.6 267.1L450.8 267.1L451.1 267L451.3 267L451.6 266.8L451.8 266.7L452.1 266.7L452.3 266.6L452.6 266.7L452.8 267L453.1 266.8L453.3 267.1L453.6 267.2L453.8 266.9L454.1 266.9L454.3 266.7L454.6 266.7L454.8 266.8L455.1 267.1L455.3 267L455.6 266.9L455.8 266.8L456.1 266.7L456.3 266.8L456.6 266.8L456.8 266.9L457.1 267L457.3 267L457.6 267.2L457.8 267.1L458.1 266.9L458.3 266.8L459.1 266.8L459.3 266.7L459.6 266.7L459.8 266.6L460.1 266.7L460.3 267.1L460.6 267.1L460.8 267.2L461.1 267.2L461.3 267L461.6 266.9L461.8 266.8L462.1 266.9L462.3 267L462.6 266.9L462.8 267L463.1 266.8L463.3 266.7L463.6 266.6L463.8 266.7L464.1 266.9L464.3 266.7L464.6 266.7L464.8 266.6L465.1 266.3L465.3 266.2L465.6 266.3L465.8 266.3L466.1 266.7L466.3 267L466.6 267.2L466.8 267.1L467.1 266.9L467.3 266.8L467.6 266.7L467.8 266.9L468.1 266.8L468.3 266.9L468.6 266.7L468.8 266.5L469.1 266.6L469.3 266.6L469.6 266.9L470.3 266.9L470.6 266.6L470.8 266.5L471.1 266.4L471.3 266L471.6 266.1L471.8 266L472.1 266.1L472.3 266.5L472.6 266.5L472.8 266.8L473.1 267.1L473.3 266.9L473.6 266.8L473.8 266.8L474.1 266.3L474.3 266.4L475.8 266.4L476.1 266.6L476.3 266.7L476.8 266.7L477.1 266.5L477.3 266.5L477.6 266.3L477.8 266.2L478.1 266.4L478.3 266.2L478.6 266.3L478.8 266.2L479.1 266L479.3 265.9L479.6 266L479.8 266.1L480.1 265.9L480.3 265.9L480.6 266L480.8 265.9L481.1 265.8L481.3 265.6L481.6 265.3L482.1 265.3L482.3 265.4L482.6 265.4L482.8 265.2L483.1 265.3L483.3 265.1L483.6 265.2L483.8 265.4L484.3 265.4L484.6 265.2L484.8 265.1L485.1 265L485.3 264.9L485.6 264.7L485.8 264.6L486.1 264.3L486.3 264.2L486.6 264.3L486.8 264.1L487.1 263.9L487.3 264.1L487.6 263.7L487.8 263.6L488.1 263.3L488.3 263L488.5 262.7" fill="none" stroke="#0f7326" stroke-width="0.9" stroke-linejoin="round"/>
<path d="M488.5 262.7L488.6 262.6L488.8 262L489.1 261L489.3 259.8L489.6 258.5L489.8 257.1L490.1 255.3L490.3 253.2L490.6 251L490.8 248.7L491.1 246.4L491.3 244L491.6 241.4L491.8 238.5L492.1 235.4L492.3 232.1L492.6 228.6L492.8 224.9L493.1 221L493.3 216.8L493.6 212.4L493.8 207.7L494.1 202.8L494.3 197.2L494.6 191.4L494.8 185.8L495.1 180.8L495.3 176L495.6 171.1L495.8 165.7L496.1 160L496.3 153.8L496.6 146.9L496.8 138.9L497.1 131.1L497.3 124.4L497.6 118.3L497.8 111.8L498.1 104.2L498.3 96.4L498.6 90.3L498.8 84.9L499.1 80.1L499.3 75.8L499.6 72.1L499.8 68.7L500.1 64.8L500.3 60.6L500.6 57.4L500.8 54.8L501.1 51.7L501.3 48.9L501.6 47.8L501.8 48.9L502.1 51.8L502.3 54.7L502.6 56.9L502.8 59.2L503.1 61.8L503.3 64.7L503.6 67.8L503.8 71.2L504.1 75L504.3 79.4L504.6 84.4L504.8 89.7L505.1 94.8L505.3 99.5L505.6 104.2L505.8 109.5L506.1 115.8L506.3 123.6L506.6 131.1L506.8 137.9L507.1 144.6L507.3 151.6L507.6 159.3L507.8 166.2L508.1 171.8L508.3 176.8L508.6 181.5L508.8 185.8L509.1 190L509.3 194L509.6 197.8L509.8 201.3L510.1 204.4L510.3 207.4L510.6 210.2L510.8 212.8L511.1 215.4L511.3 217.7L511.6 219.8L511.8 221.8L512 223.5L512.3 225.1L512.5 226.5L512.8 227.9L513 229.2L513.3 230.7L513.5 232.4L513.8 234.1L514 234.9" fill="none" stroke="#20c6f2" stroke-width="0.9" stroke-linejoin="round"/>
<path d="M514 234.9L514 235.1L514.3 235.7L514.5 235.3L514.8 236.5L515 237.4L515.3 238.6L515.5 237.8L515.8 237.6L516 237.4L516.3 239.6L516.5 239.7L516.8 242.1L517 240.3L517.3 240.7L517.5 238.7L517.8 240.9L518 241.8L518.3 241.7L518.5 241.2L518.8 240.5L519 240.4L519.3 240.1L519.5 242L519.8 243.8L520 245.2L520.3 244.9L520.5 245.9L520.8 246.8L521 246.9L521.3 246.2L521.5 244.8L521.8 244.7L522 243.6L522.3 245.4L522.5 246.4L522.8 247.3L523 246.5L523.3 246.4L523.5 246.2L523.8 245.4L524 244L524.3 244.9L524.5 245.8L524.8 246.6L525 246.4L525.3 245.8L525.5 246.4L525.8 246.3L526 248.6L526.3 247.8L526.5 247.1L526.8 245.8L527 245.7L527.3 248L527.5 248.4L527.8 250.2L528 249.1L528.3 248.7L528.5 248.7L528.8 249.7L529 250.6L529.3 248.3L529.5 248L529.8 247.7L530 249.3L530.3 249.2L530.5 249.6L530.8 250.9L531 251.7L531.3 250.6L531.5 249.7L531.8 249.6L532 251.7L532.3 252L532.5 251.8L532.8 251.4L533 250.9L533.3 251.4L533.5 251.1L533.8 251.2L534 250.7L534.3 249.9L534.5 250.7L534.8 251.2L535 251.7L535.3 251.5L535.5 250.4L535.8 250.5L536 250.7L536.3 251.3L536.5 251.2L536.8 252L537 252.4L537.3 253.1L537.5 251.6L537.8 251.9L538 251.1L538.3 252.8L538.5 252.5L538.8 252.6L539 252L539.3 251.3L539.5 253.4L539.8 253.3L540 254L540.3 252.8L540.5 253.8L540.8 253.6L541 255L541.3 253.6L541.5 253.9L541.8 251.9L542 252.7L542.3 253.6L542.5 254.6L542.8 254.8L543 253.8L543.3 253.7L543.5 253.2L543.8 253.3L544 252.3L544.3 253.8L544.5 254.4L544.8 254.9L545 253.3L545.3 253.4L545.5 254L545.8 254.5L546 254.1L546.3 254.3L546.5 254.7L546.8 255.5L547 255.4L547.3 254.2L547.5 254.2L547.8 253.4L548 253.1L548.3 252.5L548.5 251.7L548.8 252.9L549 252.1L549.3 253.5L549.5 254.2L549.8 255L550 253.9L550.3 253.6L550.5 253.5L550.8 255.2L551 255.4L551.3 255.4L551.5 255L551.8 254.2L552 253.8L552.3 254.4L552.5 255.1L552.8 255.9L553 254L553.3 253.8L553.5 254.1L553.8 255.2L554 253.9L554.3 254L554.5 254.4L554.8 255.5L555 254.8L555.3 253.5L555.5 254.2L555.8 255.5L556 256.6L556.3 255.6L556.5 255.9L556.8 256.2L557 256L557.3 255L557.5 254.3L557.8 254.7L558 253.9L558.3 253.8L558.5 253.7L558.8 253.2L559 253.7L559.3 253.6L559.5 253.6L559.8 253.4L560 253.6L560.3 254.6L560.5 254.7L560.8 253.1L561 252.2L561.3 250.2L561.5 250.8L561.8 250.8L562 251.9L562.3 252L562.5 251.8L562.8 250.7L563 251.1L563.1 250.9" fill="none" stroke="#ff2222" stroke-width="0.9" stroke-linejoin="round"/>
<path d="M563.1 250.9L563.3 250.4L563.5 250L563.8 248.7L564 248.4L564.3 247.9L564.5 247.1L564.8 246.7L565 246.8L565.3 247.3L565.5 246.6L565.8 246.5L566 247L566.3 247.4L566.5 246.7L566.8 245.4L567 245.6L567.3 245.4L567.5 245L567.8 243.9L568 243.3L568.3 243.8L568.5 243.7L568.8 244.8L569 243.8L569.3 243.3L569.5 242.7L569.8 242.8L570 244L570.3 243.8L570.5 245L570.8 243L571 242.5L571.3 242.7L571.5 245.8L571.8 245.6L572 245L572.3 242.8L572.5 244.4L572.8 243.6L573 244.3L573.3 242.8L573.5 242.9L573.8 241.4L574 242.2L574.3 241.1L574.5 242.2L574.8 241.4L575 243.4L575.3 244.7L575.5 244.5L575.8 244.4L576 243.7L576.3 244.8L576.5 244.8L576.8 244.6L577 245.5L577.3 245.8L577.5 245.5L577.8 245.3L578 244.2L578.3 244.6L578.5 243.3L578.8 243.7L579 245.7L579.3 247.4L579.5 248.3L579.8 246.8L580 246.6L580.3 247.3L580.5 248.5L580.8 249.7L581 249.6L581.3 250.5L581.5 250.1L581.8 250.9L582 252.7L582.3 253.3L582.5 254L582.8 254.7L583 255.4L583.3 256L583.5 256.6L583.8 257.2L584 257.7L584.3 258.3L584.5 258.8L584.8 259.3L585 259.9L585.3 260.3L585.5 260.8L585.8 261.2L586 261.6L586.3 262L586.5 262.4L586.8 262.7L587 263.1L587.3 263.4L587.5 263.7L587.8 263.9L588 264.2L588.3 264.4L588.5 264.5L588.8 264.7L589 264.9L589.3 265L589.5 265.1L589.8 265.3L590 265.4L590.3 265.5L590.5 265.7L590.8 265.8L591 266L591.3 266.1L591.5 266.3L591.8 266.5L592 267" fill="none" stroke="#1d1df0" stroke-width="0.9" stroke-linejoin="round"/>
<path d="M412.8 4.4H679V267.2" fill="none" stroke="#5a5a5a" stroke-width="1.4"/>
<path d="M412.8 3.9V267.2H679.5" fill="none" stroke="#595959" stroke-width="1.2"/>
<path d="M412.8 267.2v3.8M491.8 267.2v3.8M570.8 267.2v3.8M649.8 267.2v3.8M428.6 267.2v2.2M444.4 267.2v2.2M460.2 267.2v2.2M476 267.2v2.2M507.6 267.2v2.2M523.4 267.2v2.2M539.2 267.2v2.2M555 267.2v2.2M586.6 267.2v2.2M602.4 267.2v2.2M618.2 267.2v2.2M634 267.2v2.2M665.6 267.2v2.2M412.8 267.2h-4M412.8 211.5h-4M412.8 155.8h-4M412.8 100.1h-4M412.8 44.4h-4M412.8 256.1h-2.4M412.8 244.9h-2.4M412.8 233.8h-2.4M412.8 222.6h-2.4M412.8 200.4h-2.4M412.8 189.2h-2.4M412.8 178.1h-2.4M412.8 166.9h-2.4M412.8 144.7h-2.4M412.8 133.5h-2.4M412.8 122.4h-2.4M412.8 111.2h-2.4M412.8 89h-2.4M412.8 77.8h-2.4M412.8 66.7h-2.4M412.8 55.5h-2.4M412.8 33.3h-2.4M412.8 22.1h-2.4M412.8 11h-2.4" stroke="#595959" stroke-width="1" fill="none"/>
<text x="412.8" y="279.9" font-size="7" text-anchor="middle" fill="#505050">0</text>
<text x="491.8" y="279.9" font-size="7" text-anchor="middle" fill="#505050">50</text>
<text x="570.8" y="279.9" font-size="7" text-anchor="middle" fill="#505050">100</text>
<text x="649.8" y="279.9" font-size="7" text-anchor="middle" fill="#505050">150</text>
<text transform="translate(405.6 267.2) rotate(-90)" font-size="7" text-anchor="middle" fill="#505050">0</text>
<text transform="translate(405.6 211.5) rotate(-90)" font-size="7" text-anchor="middle" fill="#505050">50</text>
<text transform="translate(405.6 155.8) rotate(-90)" font-size="7" text-anchor="middle" fill="#505050">100</text>
<text transform="translate(405.6 100.1) rotate(-90)" font-size="7" text-anchor="middle" fill="#505050">150</text>
<text transform="translate(405.6 44.4) rotate(-90)" font-size="7" text-anchor="middle" fill="#505050">200</text>
<text x="545.1" y="289.1" font-size="6.9" text-anchor="middle" fill="#505050">PE-A</text>
<text x="667" y="289.1" font-size="6.9" letter-spacing="0.3" text-anchor="middle" fill="#505050">(x 10<tspan font-size="4.8" dy="-3.1">5</tspan><tspan dy="3.1">)</tspan></text>
<text transform="translate(396 14) rotate(-90)" font-size="8.2" text-anchor="middle" fill="#505050">(x 10<tspan font-size="6.4" dy="-3.3">1</tspan><tspan dy="3.3">)</tspan></text>
<text transform="translate(396.2 135.6) rotate(-90)" font-size="7.4" text-anchor="middle" fill="#505050">Count</text>
<path d="M413 257.5H488.6M488.6 253.9V261.1" stroke="#5f9a5c" stroke-width="1.0" fill="none"/>
<path d="M488 41H514.4M488 37.6V44.4M514.4 37.6V44.4" stroke="#b863c0" stroke-width="1.0" fill="none"/>
<path d="M514.3 222.5H563.8M514.3 219V226M563.8 219V226" stroke="#ff6666" stroke-width="1.0" fill="none"/>
<path d="M563.6 196.5H591.8M563.6 193V200M591.8 193V200" stroke="#6666ff" stroke-width="1.0" fill="none"/>
<path d="M105 571.8L105 571.6L105.2 571.3L105.5 570.6L105.8 569.6L106 568.5L106.2 567.4L106.5 566.4L106.8 565.7L107 565.4L107.2 566L107.5 566.5L107.8 567L108 567.4L108.2 567.8L108.5 568.1L108.8 568.4L109 568.7L109.2 569L109.5 569.2L109.8 569.4L110 569.6L110.2 569.8L110.5 570L110.8 570.1L111 570.3L111.2 570.4L111.5 570.5L111.8 570.6L112 570.7L112.2 570.8L112.5 570.9L112.8 570.9L113 571L113.2 571L113.5 571.1L113.8 571.1L114 571.2L114.2 571.2L114.5 571.3L115.2 571.3L115.5 571.4L116.5 571.4L116.8 571.5L119.5 571.5L119.8 571.6L120 571.8L149.8 571.8L150 571.5L150.2 571.4L150.5 571.2L150.8 570.9L151 570.6L151.2 570.1L151.5 569.2L151.8 568.1L152 566.9L152.2 565.7L152.5 564.5L152.8 563.2L153 561.9L153.2 560.4L153.5 558.7L153.8 556.7L154 554.3L154.2 551.5L154.5 548.6L154.8 545.5L155 542.1L155.2 538.3L155.5 533.8L155.8 527.9L156 519.8L156.2 512.7L156.5 507.8L156.8 503.4L157 498.4L157.2 491.1L157.5 481.4L157.8 473.7L158 467.4L158.2 460.2L158.5 451L158.8 442.2L159 435.2L159.2 428.3L159.5 420.4L159.8 411.2L160 401.8L160.2 392.6L160.5 383.9L160.8 376.8L161 370.5L161.2 365.3L161.5 361.8L161.8 359.5L162 357.3L162.2 354.5L162.5 352.3L162.8 351.2L163 351.8L163.2 353.3L163.5 355.6L163.8 357.6L164 359.1L164.2 360.4L164.5 362.1L164.8 364.8L165 369L165.2 374.6L165.5 380.9L165.8 389.7L166 398.9L166.2 405.7L166.5 411.7L166.8 418.3L167 425.7L167.2 433.3L167.5 441.2L167.8 449.1L168 454.7L168.2 458.6L168.5 462.1L168.8 466.5L169 471.5L169.2 476.9L169.5 482.9L169.8 489.6L170 495.9L170.2 501.2L170.5 506.2L170.8 511L171 515.9L171.2 521L171.5 526.1L171.8 530.9L172 535.3L172.2 539.3L172.5 543.3L172.8 547.3L173 551.8L173.2 555.5L173.5 557L173.8 558.2L174 559.2L174.2 560.1L174.5 560.8L174.8 561.2L175.2 561.2L175.5 562.4L175.8 562.9L176 563.6L176.2 563.1L176.5 562.7L176.8 563.1L177 563.6L177.2 564.3L177.5 563.8L177.8 563.4L178 563.6L178.2 563.7L178.5 564L178.8 563.7L179 563.9L179.2 563.8L179.5 564.1L179.8 564.3L180 564.7L180.2 564.6L180.5 564.6L180.8 564.7L181 564.8L181.2 564.6L181.5 564.3L181.8 564.4L182 564.6L182.2 564.6L182.5 564.7L182.8 564.5L183 564.6L183.2 564.7L183.5 564.8L183.8 565L184 564.5L184.2 564.7L184.5 564.4L184.8 564.3L185 564.2L185.2 564.5L185.5 565L185.8 565.2L186 565.2L186.2 564.8L186.5 564.6L186.8 565L187 565.1L187.2 565.5L187.5 565.1L187.8 565.1L188 564.9L188.2 565.5L188.5 565.6L188.8 565.8L189 565.7L189.2 565.9L189.5 566L189.8 565.9L190 565.8L190.2 565.3L190.5 565.4L190.8 565.6L191 565.5L191.2 565.1L191.5 565.4L191.8 565.5L192 565.5L192.2 565.3L192.5 565.2L192.8 565.5L193 565.4L193.2 565.8L193.5 565.5L193.8 565.6L194 566L194.2 566.5L194.5 566.4L194.8 566L195 565.5L195.2 565.5L195.5 565.3L195.8 565.5L196 565.2L196.2 565.3L196.5 565.6L196.8 565.9L197 565.4L197.2 565.1L197.5 564.7L197.8 564.9L198 564.5L198.2 564.5L198.5 564.2L198.8 564.2L199 564L199.2 563.8L199.5 564.1L199.8 563.9L200 563.8L200.2 563.1L200.5 562.9L200.8 562.8L201 562.6L201.2 562.1L201.5 561.7L201.8 561.6L202 561.8L202.2 561.5L202.5 561.6L202.8 561.4L203 561.7L203.2 561.8L203.5 561.4L203.8 560.8L204 560.7L204.2 560.4L204.5 560.2L204.8 560L205 559.7L205.2 559.5L205.5 559.2L205.8 559L206 558.7L206.2 558.5L206.5 558.3L206.8 558.1L207 557.9L207.2 557.7L207.5 557.5L207.8 557.3L208 557.1L208.2 556.9L208.5 556.8L208.8 556.6L209 556.5L209.2 556.3L209.5 556.2L209.8 556L210 555.9L210.2 555.8L210.5 555.7L210.8 555.6L211 555.4L211.2 555.4L211.5 555.3L211.8 555.2L212 555.2L212.2 555.1L212.5 555L213 555L213.2 554.9L213.5 554.9L213.8 554.8L215 554.8L215.2 554.9L215.5 554.9L215.8 555L216 555.1L216.2 555.2L216.5 555.3L216.8 555.4L217 555.5L217.2 555.7L217.5 555.8L217.8 555.9L218 556L218.2 556.2L218.5 556.3L218.8 556.5L219 556.7L219.2 556.9L219.5 557.2L219.8 557.4L220 557.7L220.2 558L220.5 558.2L220.8 558.5L221 558.8L221.2 559.1L221.5 559.4L221.8 559.7L222 560L222.2 560.3L222.5 560.6L222.8 560.9L223 561.3L223.2 561.6L223.5 562L223.8 562.3L224 562.7L224.2 563L224.5 563.3L224.8 563.6L225 564L225.2 564.3L225.5 564.6L225.8 564.9L226 565.2L226.2 565.5L226.5 565.8L226.8 566.1L227 566.4L227.2 566.7L227.5 566.9L227.8 567.2L228 567.4L228.2 567.6L228.5 567.8L228.8 568L229 568.2L229.2 568.3L229.5 568.5L229.8 568.7L230 568.8L230.2 569L230.5 569.2L230.8 569.3L231 569.5L231.2 569.6L231.5 569.8L231.8 570L232 570.2L232.2 570.4L232.5 570.6L232.8 570.8L233 571L233.2 571.2L233.5 571.4L233.8 571.8L234.2 571.8L234.5 571.7L234.8 571.2L235 570.9L235.2 570.9L235.5 571.2L235.8 571.6L236 571.8L236.2 571.8L236.5 571.7L236.8 571.4L237 571.5L237.2 571.5L237.5 571.7L237.8 571.8L238.5 571.8L238.8 571.7L239 571.8L239.2 571.5L239.5 571.3L239.8 571.5L240 571.8L240 571.8Z" fill="#1c9d40"/>
<path d="M150 571.8L150 571.5L150.2 571.4L150.5 571.2L150.8 570.9L151 570.6L151.2 570.1L151.5 569.2L151.8 568.1L152 566.9L152.2 565.7L152.5 564.5L152.8 563.2L153 561.9L153.2 560.4L153.5 558.7L153.8 556.7L154 554.3L154.2 551.5L154.5 548.6L154.8 545.5L155 542.1L155.2 538.3L155.5 533.8L155.8 527.9L156 519.8L156.2 512.7L156.5 507.8L156.8 503.4L157 498.4L157.2 491.1L157.5 481.4L157.8 473.7L158 467.4L158.2 460.2L158.5 451L158.8 442.2L159 435.2L159.2 428.3L159.5 420.4L159.8 411.2L160 401.8L160.2 392.6L160.5 383.9L160.8 376.8L161 370.5L161.2 365.3L161.5 361.8L161.8 359.5L162 357.3L162.2 354.5L162.5 352.3L162.8 351.2L163 351.8L163.2 353.3L163.5 355.6L163.8 357.6L164 359.1L164.2 360.4L164.5 362.1L164.8 364.8L165 369L165.2 374.6L165.5 380.9L165.8 389.7L166 398.9L166.2 405.7L166.5 411.7L166.8 418.3L167 425.7L167.2 433.3L167.5 441.2L167.8 449.1L168 454.7L168.2 458.6L168.5 462.1L168.8 466.5L169 471.5L169.2 476.9L169.5 482.9L169.8 489.6L170 495.9L170.2 501.2L170.5 506.2L170.8 511L171 515.9L171.2 521L171.5 526.1L171.8 530.9L172 535.3L172.2 539.3L172.5 543.3L172.8 547.3L173 551.8L173.2 555.5L173.5 557L173.8 558.2L174 559.2L174.2 560.1L174.5 560.8L174.8 561.2L175.2 561.2L175.5 562.4L175.8 562.9L176 563.6L176.2 563.1L176.5 562.7L176.8 563.1L177 563.6L177.2 564.3L177.5 563.8L177.8 563.4L178 563.6L178.2 563.7L178.5 564L178.8 563.7L179 563.9L179.2 563.8L179.5 564.1L179.8 564.3L180 564.7L180.2 564.6L180.5 564.6L180.8 564.7L181 564.8L181.2 564.6L181.5 564.3L181.8 564.4L182 564.6L182.2 564.6L182.5 564.7L182.8 564.5L183 564.6L183.2 564.7L183.5 564.8L183.8 565L184 564.5L184.2 564.7L184.5 564.4L184.8 564.3L185 564.2L185.2 564.5L185.5 565L185.8 565.2L186 565.2L186.2 564.8L186.5 564.6L186.8 565L187 565.1L187.2 565.5L187.5 565.1L187.8 565.1L188 564.9L188.2 565.5L188.5 565.6L188.8 565.8L189 565.7L189.2 565.9L189.5 566L189.8 565.9L190 565.8L190.2 565.3L190.5 565.4L190.8 565.6L191 565.5L191.2 565.1L191.5 565.4L191.8 565.5L192 565.5L192.2 565.3L192.5 565.2L192.8 565.5L193 565.4L193.2 565.8L193.5 565.5L193.8 565.6L194 566L194.2 566.5L194.5 566.4L194.8 566L195 565.5L195.2 565.5L195.5 565.3L195.8 565.5L196 565.2L196.2 565.3L196.5 565.6L196.8 565.9L197 565.4L197.2 565.1L197.5 564.7L197.8 564.9L198 564.5L198.2 564.5L198.5 564.2L198.8 564.2L199 564L199.2 563.8L199.5 564.1L199.8 563.9L200 563.8L200.2 563.1L200.5 562.9L200.8 562.8L201 562.6L201.2 562.1L201.5 561.7L201.8 561.6L202 561.8L202.2 561.5L202.5 561.6L202.8 561.4L203 561.7L203.2 561.8L203.5 561.4L203.8 560.8L204 560.7L204.2 560.4L204.5 560.2L204.8 560L205 559.7L205.2 559.5L205.5 559.2L205.8 559L206 558.7L206.2 558.5L206.5 558.3L206.8 558.1L207 557.9L207.2 557.7L207.5 557.5L207.8 557.3L208 557.1L208.2 556.9L208.5 556.8L208.8 556.6L209 556.5L209.2 556.3L209.5 556.2L209.8 556L210 555.9L210.2 555.8L210.5 555.7L210.8 555.6L211 555.4L211.2 555.4L211.5 555.3L211.8 555.2L212 555.2L212.2 555.1L212.5 555L213 555L213.2 554.9L213.5 554.9L213.8 554.8L215 554.8L215.2 554.9L215.5 554.9L215.8 555L216 555.1L216.2 555.2L216.5 555.3L216.8 555.4L217 555.5L217.2 555.7L217.5 555.8L217.8 555.9L218 556L218.2 556.2L218.5 556.3L218.8 556.5L219 556.7L219.2 556.9L219.5 557.2L219.8 557.4L220 557.7L220.2 558L220.5 558.2L220.8 558.5L221 558.8L221.2 559.1L221.5 559.4L221.8 559.7L222 560L222.2 560.3L222.5 560.6L222.8 560.9L223 561.3L223.2 561.6L223.5 562L223.8 562.3L224 562.7L224.2 563L224.5 563.3L224.8 563.6L225 564L225.2 564.3L225.5 564.6L225.8 564.9L226 565.2L226.2 565.5L226.5 565.8L226.8 566.1L227 566.4L227.2 566.7L227.5 566.9L227.8 567.2L228 567.4L228.2 567.6L228.5 567.8L228.8 568L229 568.2L229.2 568.3L229.5 568.5L229.8 568.7L230 568.8L230.2 569L230.5 569.2L230.8 569.3L231 569.5L231.2 569.6L231.5 569.8L231.8 570L232 570.2L232.2 570.4L232.5 570.6L232.8 570.8L233 571L233.2 571.2L233.5 571.4L233.8 571.8L234.2 571.8L234.5 571.7L234.8 571.2L235 570.9L235.2 570.9L235.5 571.2L235.8 571.6L236 571.8L236.2 571.8L236.5 571.7L236.8 571.4L237 571.5L237.2 571.5L237.5 571.7L237.8 571.8L238.5 571.8L238.8 571.7L239 571.8L239.2 571.5L239.5 571.3L239.8 571.5L240 571.8L240 571.8Z" fill="#2c9fd9"/>
<path d="M173.3 571.8L173.3 555.8L173.5 557L173.8 558.2L174 559.2L174.2 560.1L174.5 560.8L174.8 561.2L175.2 561.2L175.5 562.4L175.8 562.9L176 563.6L176.2 563.1L176.5 562.7L176.8 563.1L177 563.6L177.2 564.3L177.5 563.8L177.8 563.4L178 563.6L178.2 563.7L178.5 564L178.8 563.7L179 563.9L179.2 563.8L179.5 564.1L179.8 564.3L180 564.7L180.2 564.6L180.5 564.6L180.8 564.7L181 564.8L181.2 564.6L181.5 564.3L181.8 564.4L182 564.6L182.2 564.6L182.5 564.7L182.8 564.5L183 564.6L183.2 564.7L183.5 564.8L183.8 565L184 564.5L184.2 564.7L184.5 564.4L184.8 564.3L185 564.2L185.2 564.5L185.5 565L185.8 565.2L186 565.2L186.2 564.8L186.5 564.6L186.8 565L187 565.1L187.2 565.5L187.5 565.1L187.8 565.1L188 564.9L188.2 565.5L188.5 565.6L188.8 565.8L189 565.7L189.2 565.9L189.5 566L189.8 565.9L190 565.8L190.2 565.3L190.5 565.4L190.8 565.6L191 565.5L191.2 565.1L191.5 565.4L191.8 565.5L192 565.5L192.2 565.3L192.5 565.2L192.8 565.5L193 565.4L193.2 565.8L193.5 565.5L193.8 565.6L194 566L194.2 566.5L194.5 566.4L194.8 566L195 565.5L195.2 565.5L195.5 565.3L195.8 565.5L196 565.2L196.2 565.3L196.5 565.6L196.8 565.9L197 565.4L197.2 565.1L197.5 564.7L197.8 564.9L198 564.5L198.2 564.5L198.5 564.2L198.8 564.2L199 564L199.2 563.8L199.5 564.1L199.8 563.9L200 563.8L200.2 563.1L200.5 562.9L200.8 562.8L201 562.6L201.2 562.1L201.5 561.7L201.8 561.6L202 561.8L202.2 561.5L202.5 561.6L202.8 561.4L203 561.7L203.2 561.8L203.5 561.4L203.8 560.8L204 560.7L204.2 560.4L204.5 560.2L204.8 560L205 559.7L205.2 559.5L205.5 559.2L205.8 559L206 558.7L206.2 558.5L206.5 558.3L206.8 558.1L207 557.9L207.2 557.7L207.5 557.5L207.8 557.3L208 557.1L208.2 556.9L208.5 556.8L208.8 556.6L209 556.5L209.2 556.3L209.5 556.2L209.8 556L210 555.9L210.2 555.8L210.5 555.7L210.8 555.6L211 555.4L211.2 555.4L211.5 555.3L211.8 555.2L212 555.2L212.2 555.1L212.5 555L213 555L213.2 554.9L213.5 554.9L213.8 554.8L215 554.8L215.2 554.9L215.5 554.9L215.8 555L216 555.1L216.2 555.2L216.5 555.3L216.8 555.4L217 555.5L217.2 555.7L217.5 555.8L217.8 555.9L218 556L218.2 556.2L218.5 556.3L218.8 556.5L219 556.7L219.2 556.9L219.5 557.2L219.8 557.4L220 557.7L220.2 558L220.5 558.2L220.8 558.5L221 558.8L221.2 559.1L221.5 559.4L221.8 559.7L222 560L222.2 560.3L222.5 560.6L222.8 560.9L223 561.3L223.2 561.6L223.5 562L223.8 562.3L224 562.7L224.2 563L224.5 563.3L224.8 563.6L225 564L225.2 564.3L225.5 564.6L225.8 564.9L226 565.2L226.2 565.5L226.5 565.8L226.8 566.1L227 566.4L227.2 566.7L227.5 566.9L227.8 567.2L228 567.4L228.2 567.6L228.5 567.8L228.8 568L229 568.2L229.2 568.3L229.5 568.5L229.8 568.7L230 568.8L230.2 569L230.5 569.2L230.8 569.3L231 569.5L231.2 569.6L231.5 569.8L231.8 570L232 570.2L232.2 570.4L232.5 570.6L232.8 570.8L233 571L233.2 571.2L233.5 571.4L233.8 571.8L234.2 571.8L234.5 571.7L234.8 571.2L235 570.9L235.2 570.9L235.5 571.2L235.8 571.6L236 571.8L236.2 571.8L236.5 571.7L236.8 571.4L237 571.5L237.2 571.5L237.5 571.7L237.8 571.8L238.5 571.8L238.8 571.7L239 571.8L239.2 571.5L239.5 571.3L239.8 571.5L240 571.8L240 571.8Z" fill="#1946d8"/>
<path d="M203.7 571.8L203.7 560.9L203.8 560.8L204 560.7L204.2 560.4L204.5 560.2L204.8 560L205 559.7L205.2 559.5L205.5 559.2L205.8 559L206 558.7L206.2 558.5L206.5 558.3L206.8 558.1L207 557.9L207.2 557.7L207.5 557.5L207.8 557.3L208 557.1L208.2 556.9L208.5 556.8L208.8 556.6L209 556.5L209.2 556.3L209.5 556.2L209.8 556L210 555.9L210.2 555.8L210.5 555.7L210.8 555.6L211 555.4L211.2 555.4L211.5 555.3L211.8 555.2L212 555.2L212.2 555.1L212.5 555L213 555L213.2 554.9L213.5 554.9L213.8 554.8L215 554.8L215.2 554.9L215.5 554.9L215.8 555L216 555.1L216.2 555.2L216.5 555.3L216.8 555.4L217 555.5L217.2 555.7L217.5 555.8L217.8 555.9L218 556L218.2 556.2L218.5 556.3L218.8 556.5L219 556.7L219.2 556.9L219.5 557.2L219.8 557.4L220 557.7L220.2 558L220.5 558.2L220.8 558.5L221 558.8L221.2 559.1L221.5 559.4L221.8 559.7L222 560L222.2 560.3L222.5 560.6L222.8 560.9L223 561.3L223.2 561.6L223.5 562L223.8 562.3L224 562.7L224.2 563L224.5 563.3L224.8 563.6L225 564L225.2 564.3L225.5 564.6L225.8 564.9L226 565.2L226.2 565.5L226.5 565.8L226.8 566.1L227 566.4L227.2 566.7L227.5 566.9L227.8 567.2L228 567.4L228.2 567.6L228.5 567.8L228.8 568L229 568.2L229.2 568.3L229.5 568.5L229.8 568.7L230 568.8L230.2 569L230.5 569.2L230.8 569.3L231 569.5L231.2 569.6L231.5 569.8L231.8 570L232 570.2L232.2 570.4L232.5 570.6L232.8 570.8L233 571L233.2 571.2L233.5 571.4L233.8 571.8L234.2 571.8L234.5 571.7L234.8 571.2L235 570.9L235.2 570.9L235.5 571.2L235.8 571.6L236 571.8L236.2 571.8L236.5 571.7L236.8 571.4L237 571.5L237.2 571.5L237.5 571.7L237.8 571.8L238.5 571.8L238.8 571.7L239 571.8L239.2 571.5L239.5 571.3L239.8 571.5L240 571.8L240 571.8Z" fill="#c2494c"/>
<path d="M233.5 571.8L233.5 571.4L233.8 571.8L234.2 571.8L234.5 571.7L234.8 571.2L235 570.9L235.2 570.9L235.5 571.2L235.8 571.6L236 571.8L236.2 571.8L236.5 571.7L236.8 571.4L237 571.5L237.2 571.5L237.5 571.7L237.8 571.8L238.5 571.8L238.8 571.7L239 571.8L239.2 571.5L239.5 571.3L239.8 571.5L240 571.8L240 571.8Z" fill="#35c8ee"/>
<path d="M105 571.6L105.2 571.3L105.5 570.6L105.8 569.6L106 568.5L106.2 567.4L106.5 566.4L106.8 565.7L107 565.4L107.2 566L107.5 566.5L107.8 567L108 567.4L108.2 567.8L108.5 568.1L108.8 568.4L109 568.7L109.2 569L109.5 569.2L109.8 569.4L110 569.6L110.2 569.8L110.5 570L110.8 570.1L111 570.3L111.2 570.4L111.5 570.5L111.8 570.6L112 570.7L112.2 570.8L112.5 570.9L112.8 570.9L113 571L113.2 571L113.5 571.1L113.8 571.1L114 571.2L114.2 571.2L114.5 571.3L115.2 571.3L115.5 571.4L116.5 571.4L116.8 571.5L119.5 571.5L119.8 571.6L120 571.8L149.8 571.8L150 571.5" fill="none" stroke="#0f7326" stroke-width="0.9" stroke-linejoin="round"/>
<path d="M150 571.5L150.2 571.4L150.5 571.2L150.8 570.9L151 570.6L151.2 570.1L151.5 569.2L151.8 568.1L152 566.9L152.2 565.7L152.5 564.5L152.8 563.2L153 561.9L153.2 560.4L153.5 558.7L153.8 556.7L154 554.3L154.2 551.5L154.5 548.6L154.8 545.5L155 542.1L155.2 538.3L155.5 533.8L155.8 527.9L156 519.8L156.2 512.7L156.5 507.8L156.8 503.4L157 498.4L157.2 491.1L157.5 481.4L157.8 473.7L158 467.4L158.2 460.2L158.5 451L158.8 442.2L159 435.2L159.2 428.3L159.5 420.4L159.8 411.2L160 401.8L160.2 392.6L160.5 383.9L160.8 376.8L161 370.5L161.2 365.3L161.5 361.8L161.8 359.5L162 357.3L162.2 354.5L162.5 352.3L162.8 351.2L163 351.8L163.2 353.3L163.5 355.6L163.8 357.6L164 359.1L164.2 360.4L164.5 362.1L164.8 364.8L165 369L165.2 374.6L165.5 380.9L165.8 389.7L166 398.9L166.2 405.7L166.5 411.7L166.8 418.3L167 425.7L167.2 433.3L167.5 441.2L167.8 449.1L168 454.7L168.2 458.6L168.5 462.1L168.8 466.5L169 471.5L169.2 476.9L169.5 482.9L169.8 489.6L170 495.9L170.2 501.2L170.5 506.2L170.8 511L171 515.9L171.2 521L171.5 526.1L171.8 530.9L172 535.3L172.2 539.3L172.5 543.3L172.8 547.3L173 551.8L173.2 555.5L173.3 555.8" fill="none" stroke="#20c6f2" stroke-width="0.9" stroke-linejoin="round"/>
<path d="M173.3 555.8L173.5 557L173.8 558.2L174 559.2L174.2 560.1L174.5 560.8L174.8 561.2L175.2 561.2L175.5 562.4L175.8 562.9L176 563.6L176.2 563.1L176.5 562.7L176.8 563.1L177 563.6L177.2 564.3L177.5 563.8L177.8 563.4L178 563.6L178.2 563.7L178.5 564L178.8 563.7L179 563.9L179.2 563.8L179.5 564.1L179.8 564.3L180 564.7L180.2 564.6L180.5 564.6L180.8 564.7L181 564.8L181.2 564.6L181.5 564.3L181.8 564.4L182 564.6L182.2 564.6L182.5 564.7L182.8 564.5L183 564.6L183.2 564.7L183.5 564.8L183.8 565L184 564.5L184.2 564.7L184.5 564.4L184.8 564.3L185 564.2L185.2 564.5L185.5 565L185.8 565.2L186 565.2L186.2 564.8L186.5 564.6L186.8 565L187 565.1L187.2 565.5L187.5 565.1L187.8 565.1L188 564.9L188.2 565.5L188.5 565.6L188.8 565.8L189 565.7L189.2 565.9L189.5 566L189.8 565.9L190 565.8L190.2 565.3L190.5 565.4L190.8 565.6L191 565.5L191.2 565.1L191.5 565.4L191.8 565.5L192 565.5L192.2 565.3L192.5 565.2L192.8 565.5L193 565.4L193.2 565.8L193.5 565.5L193.8 565.6L194 566L194.2 566.5L194.5 566.4L194.8 566L195 565.5L195.2 565.5L195.5 565.3L195.8 565.5L196 565.2L196.2 565.3L196.5 565.6L196.8 565.9L197 565.4L197.2 565.1L197.5 564.7L197.8 564.9L198 564.5L198.2 564.5L198.5 564.2L198.8 564.2L199 564L199.2 563.8L199.5 564.1L199.8 563.9L200 563.8L200.2 563.1L200.5 562.9L200.8 562.8L201 562.6L201.2 562.1L201.5 561.7L201.8 561.6L202 561.8L202.2 561.5L202.5 561.6L202.8 561.4L203 561.7L203.2 561.8L203.5 561.4L203.7 560.9" fill="none" stroke="#1d1df0" stroke-width="0.9" stroke-linejoin="round"/>
<path d="M203.7 560.9L203.8 560.8L204 560.7L204.2 560.4L204.5 560.2L204.8 560L205 559.7L205.2 559.5L205.5 559.2L205.8 559L206 558.7L206.2 558.5L206.5 558.3L206.8 558.1L207 557.9L207.2 557.7L207.5 557.5L207.8 557.3L208 557.1L208.2 556.9L208.5 556.8L208.8 556.6L209 556.5L209.2 556.3L209.5 556.2L209.8 556L210 555.9L210.2 555.8L210.5 555.7L210.8 555.6L211 555.4L211.2 555.4L211.5 555.3L211.8 555.2L212 555.2L212.2 555.1L212.5 555L213 555L213.2 554.9L213.5 554.9L213.8 554.8L215 554.8L215.2 554.9L215.5 554.9L215.8 555L216 555.1L216.2 555.2L216.5 555.3L216.8 555.4L217 555.5L217.2 555.7L217.5 555.8L217.8 555.9L218 556L218.2 556.2L218.5 556.3L218.8 556.5L219 556.7L219.2 556.9L219.5 557.2L219.8 557.4L220 557.7L220.2 558L220.5 558.2L220.8 558.5L221 558.8L221.2 559.1L221.5 559.4L221.8 559.7L222 560L222.2 560.3L222.5 560.6L222.8 560.9L223 561.3L223.2 561.6L223.5 562L223.8 562.3L224 562.7L224.2 563L224.5 563.3L224.8 563.6L225 564L225.2 564.3L225.5 564.6L225.8 564.9L226 565.2L226.2 565.5L226.5 565.8L226.8 566.1L227 566.4L227.2 566.7L227.5 566.9L227.8 567.2L228 567.4L228.2 567.6L228.5 567.8L228.8 568L229 568.2L229.2 568.3L229.5 568.5L229.8 568.7L230 568.8L230.2 569L230.5 569.2L230.8 569.3L231 569.5L231.2 569.6L231.5 569.8L231.8 570L232 570.2L232.2 570.4L232.5 570.6L232.8 570.8L233 571L233.2 571.2L233.5 571.4" fill="none" stroke="#ff2222" stroke-width="0.9" stroke-linejoin="round"/>
<path d="M105 307.4H372V571.8" fill="none" stroke="#626262" stroke-width="1.1"/>
<path d="M105 306.9V571.8H372.5" fill="none" stroke="#686868" stroke-width="1.2"/>
<path d="M105 571.8v3.8M184.4 571.8v3.8M263.9 571.8v3.8M343.4 571.8v3.8M120.9 571.8v2.2M136.8 571.8v2.2M152.7 571.8v2.2M168.6 571.8v2.2M200.3 571.8v2.2M216.2 571.8v2.2M232.1 571.8v2.2M248 571.8v2.2M279.8 571.8v2.2M295.7 571.8v2.2M311.6 571.8v2.2M327.5 571.8v2.2M359.2 571.8v2.2M105 571.8h-4M105 504.6h-4M105 437.5h-4M105 370.3h-4M105 558.4h-2.4M105 544.9h-2.4M105 531.5h-2.4M105 518.1h-2.4M105 491.2h-2.4M105 477.8h-2.4M105 464.4h-2.4M105 450.9h-2.4M105 424.1h-2.4M105 410.6h-2.4M105 397.2h-2.4M105 383.8h-2.4M105 356.9h-2.4M105 343.5h-2.4M105 330.1h-2.4M105 316.6h-2.4" stroke="#686868" stroke-width="1" fill="none"/>
<text x="105" y="584.5" font-size="7" text-anchor="middle" fill="#505050">0</text>
<text x="184.4" y="584.5" font-size="7" text-anchor="middle" fill="#505050">50</text>
<text x="263.9" y="584.5" font-size="7" text-anchor="middle" fill="#505050">100</text>
<text x="343.4" y="584.5" font-size="7" text-anchor="middle" fill="#505050">150</text>
<text transform="translate(97.4 571.8) rotate(-90)" font-size="7" text-anchor="middle" fill="#505050">0</text>
<text transform="translate(97.4 504.6) rotate(-90)" font-size="7" text-anchor="middle" fill="#505050">100</text>
<text transform="translate(97.4 437.5) rotate(-90)" font-size="7" text-anchor="middle" fill="#505050">200</text>
<text transform="translate(97.4 370.3) rotate(-90)" font-size="7" text-anchor="middle" fill="#505050">300</text>
<text x="237.4" y="593.9" font-size="6.9" text-anchor="middle" fill="#505050">PE-A</text>
<text x="360" y="594.3" font-size="6.9" letter-spacing="0.3" text-anchor="middle" fill="#505050">(x 10<tspan font-size="4.8" dy="-3.1">5</tspan><tspan dy="3.1">)</tspan></text>
<text transform="translate(87 317.3) rotate(-90)" font-size="8.4" text-anchor="middle" fill="#505050">(x 10<tspan font-size="6.6" dy="-3.3">1</tspan><tspan dy="3.3">)</tspan></text>
<text transform="translate(88 439) rotate(-90)" font-size="7.4" text-anchor="middle" fill="#505050">Count</text>
<path d="M105.2 552.8H149.4M105.2 549.2V556.4M149.4 549.2V556.4" stroke="#5f9a5c" stroke-width="1.0" fill="none"/>
<path d="M149.4 346.6H173.4M149.4 343.2V350M173.4 343.2V350" stroke="#b863c0" stroke-width="1.0" fill="none"/>
<path d="M173.6 544.5H203.3M173.6 541V548M203.3 541V548" stroke="#6666ff" stroke-width="1.0" fill="none"/>
<path d="M204.2 521.8H232.8M204.2 518.3V525.3M232.8 518.3V525.3" stroke="#ff6666" stroke-width="1.0" fill="none"/>
<path d="M367.6 511.2l2.6 3.2l-2.6 3.2" stroke="#ff8a8a" stroke-width="0.9" fill="none"/>
<path d="M414.2 571.7L414.2 476.3L414.4 480.2L414.7 497.6L414.9 510.8L415.2 521.8L415.4 530L415.7 536.2L415.9 542L416.2 546.7L416.4 551L416.7 553.6L416.9 554.9L417.2 556.2L417.4 557.5L417.7 559.4L417.9 560.4L418.2 561.2L418.4 561.6L418.7 561.7L418.9 562.5L419.2 563.4L419.4 563.5L419.7 564.2L419.9 564.6L420.2 564.7L420.4 565.2L420.7 565.6L420.9 565.3L421.2 564.9L421.4 565.3L421.7 564.5L421.9 563.7L422.2 564.4L422.4 564.2L422.7 565.5L422.9 566.9L423.2 566.5L423.4 565.9L423.7 565.5L423.9 565.2L424.2 565.6L424.4 566.4L424.7 566.2L424.9 567.3L425.2 567.5L425.4 568.1L425.7 567.7L425.9 567.1L426.2 566.7L426.4 566L426.7 566.9L426.9 566.9L427.2 567.2L427.4 567.8L427.7 567.5L427.9 567L428.2 566.4L428.4 566.2L428.7 566.2L428.9 567.8L429.2 568.6L429.4 569.1L429.7 569.5L429.9 568.4L430.2 568.9L430.4 567.7L430.7 567.3L430.9 567.1L431.2 566.2L431.4 567.1L431.7 567.3L431.9 568.2L432.2 568.5L432.4 568.3L432.7 568.4L432.9 567.4L433.2 566.8L433.4 566L433.7 565.6L433.9 566.4L434.2 566.5L434.4 567.1L434.7 567.1L434.9 566.3L435.2 566.4L435.4 566.8L435.7 567.5L435.9 568.4L436.2 568.9L436.4 568.4L436.7 567.2L436.9 567L437.2 566.8L437.4 567.5L437.7 568.3L437.9 568L438.4 568L438.7 567.6L438.9 568.7L439.2 569.1L439.4 569.1L439.7 568.9L439.9 568.6L440.2 567.9L440.4 566.9L440.7 567.2L440.9 567L441.2 567.8L441.4 567.7L441.7 567.8L441.9 567.4L442.2 566.9L442.4 567.9L442.7 567.7L442.9 568.5L443.2 567.8L443.4 567.9L443.7 568.1L443.9 567.6L444.2 568.4L444.4 567.7L444.7 568.4L444.9 568.2L445.2 567.6L445.4 568.2L445.7 567.7L445.9 567.3L446.2 567.9L446.4 568.4L446.7 567.5L446.9 567.5L447.2 567.8L447.4 566.8L447.7 567.2L447.9 568L448.2 568.6L448.4 569L448.7 568.6L448.9 568.6L449.2 567.9L449.4 568.2L449.7 568.9L449.9 568.5L450.2 567.5L450.4 567.7L450.7 567.3L450.9 567.1L451.2 567.8L451.4 567.1L451.7 567.3L451.9 567.4L452.2 567.6L452.4 568.3L452.7 567.9L452.9 567.7L453.2 567.6L453.4 567.1L453.7 568.3L453.9 569L454.2 569.1L454.4 568.2L454.7 567.6L454.9 567.1L455.2 566.3L455.4 567.4L455.7 567.3L455.9 567.4L456.2 567.7L456.4 567.6L456.7 567.7L456.9 568.2L457.2 568.9L457.4 569.2L457.7 569.3L457.9 569.5L458.2 568.8L458.4 568.6L458.7 568.5L458.9 567.4L459.2 567.2L459.4 567L459.7 566.9L459.9 567.3L460.2 567.5L460.4 566.7L460.7 566.8L460.9 566.7L461.2 566.8L461.4 567.7L461.7 567L461.9 566.9L462.2 566.7L462.4 567.1L462.7 567.8L462.9 567.7L463.2 567.6L463.4 566.7L463.7 566.9L463.9 566.6L464.2 566.2L464.4 567L464.7 566.2L464.9 565.2L465.2 565.4L465.4 565.4L465.7 565.1L465.9 566.6L466.2 566.1L466.4 564.3L466.7 563.9L466.9 563.4L467.2 562.8L467.4 562.2L467.7 561.5L467.9 560.8L468.2 560.1L468.4 559.2L468.7 558.4L468.9 557.4L469.2 556.4L469.4 555.4L469.7 554.2L469.9 552.9L470.2 551.4L470.4 549.8L470.7 548.2L470.9 546.5L471.2 544.8L471.4 543.1L471.7 541.2L471.9 539.4L472.2 537.4L472.4 535.3L472.7 533.2L472.9 530.9L473.2 528.4L473.4 525.8L473.7 523.1L473.9 520.1L474.2 517L474.4 513.6L474.7 510L474.9 506.1L475.2 501.8L475.4 497.2L475.7 492.3L475.9 486.9L476.2 480.9L476.4 474.4L476.7 467L476.9 458.9L477.2 449.9L477.4 439L477.7 427.6L477.9 418.2L478.2 411.5L478.4 405.1L478.7 399.2L478.9 393.7L479.2 388.9L479.4 384.6L479.7 381.2L479.9 378.5L480.2 376.7L480.4 375.4L480.7 374.4L480.9 373.4L481.2 372.3L481.4 371.2L481.7 370L481.9 368.9L482.2 367.9L482.4 367L482.7 365.7L482.9 362.7L483.2 351.6L483.4 351.1L483.7 352.2L483.9 364.4L484.2 366.2L484.4 367.2L484.7 367.9L484.9 368.5L485.2 369.3L485.4 370.1L485.7 370.9L485.9 371.6L486.2 372.6L486.4 373.3L486.7 374.4L486.9 375.8L487.2 376.5L487.4 378.8L487.7 381.1L487.9 384.5L488.2 387.6L488.4 391L488.7 395.6L488.9 399.7L489.2 403.7L489.4 408.1L489.7 412.4L489.9 416.7L490.2 419.7L490.4 422.3L490.7 424.9L490.9 427.2L491.2 429.5L491.4 431.4L491.7 434L491.9 437.1L492.2 440.2L492.4 442.7L492.7 445.9L492.9 449L493.2 452.5L493.4 456.6L493.7 462.3L493.9 468.5L494.2 472.8L494.4 476.7L494.7 479.5L494.9 481.2L495.2 483.7L495.4 485.6L495.7 488L495.9 489.9L496.2 492.5L496.4 495.1L496.7 497.1L496.9 500.1L497.2 502.1L497.4 504.9L497.7 506.8L497.9 508.9L498.2 509.8L498.4 511.3L498.7 512.7L498.9 514.2L499.2 515.8L499.4 517.5L499.7 519.6L499.9 522.2L500.2 524.9L500.4 527.5L500.7 529.7L500.9 531.4L501.2 533.3L501.4 533.1L501.7 534.6L501.9 536.1L502.2 538.3L502.4 540.2L502.7 540.7L502.9 540.7L503.2 541.8L503.4 542.5L503.7 544.6L503.9 545.1L504.2 546L504.4 545.7L504.7 545.8L504.9 546.5L505.2 547.4L505.4 548.5L505.7 548.5L505.9 548.2L506.2 548.1L506.4 548.9L506.7 548.7L506.9 548.1L507.2 549.2L507.4 550.4L507.7 551.8L507.9 551.6L508.2 552.5L508.4 553.1L508.7 553.7L508.9 553.9L509.2 553.8L509.4 553L509.7 552.4L509.9 552.1L510.2 553.1L510.4 552.9L510.7 553.4L510.9 552.9L511.2 553.2L511.4 552.6L511.7 553.1L511.9 553.2L512.2 552.7L512.5 552.1L512.7 552.3L513 552.7L513.2 553.4L513.5 553.9L513.7 554.1L514 553.7L514.2 553.2L514.5 553.6L514.7 553.7L515 554.3L515.2 555.2L515.5 555.4L515.7 556.6L516 556.9L516.2 558.5L516.5 558.1L516.7 559.1L517 557.8L517.2 558L517.5 556.9L517.7 557.5L518 556.1L518.2 554.9L518.5 554.2L518.7 552.4L519 551.5L519.2 550.4L519.5 550.9L519.7 551.5L520 551.4L520.2 551.6L520.5 551.6L520.7 552.6L521 552.8L521.2 553.6L521.5 553.1L521.7 553L522 553L522.2 552.6L522.5 553.3L522.7 553.6L523 554.8L523.2 554.4L523.7 554.4L524 554.6L524.2 555.3L524.5 556.8L524.7 557.9L525 557.7L525.2 556.2L525.5 555.5L525.7 555.7L526 556.6L526.2 557L526.5 557.7L526.7 556.5L527 556.5L527.2 554.9L527.5 555.5L527.7 554.8L528 554.3L528.2 553.3L528.5 552L528.7 551L529 550.1L529.2 550.5L529.5 550.8L529.7 551.6L530 551.6L530.2 552.7L530.5 551.4L530.7 552L531 551.7L531.2 553.2L531.5 553.4L531.7 554.6L532 554.8L532.2 555.1L532.5 553.9L532.7 555L533 555.1L533.2 555.8L533.5 555.2L533.7 555.1L534 556.1L534.2 555.6L534.5 555.9L534.7 555.7L535 556.5L535.2 556.1L535.5 556.2L535.7 555.4L536 554.5L536.2 553.5L536.5 554.4L536.7 556.3L537 556.1L537.2 555.2L537.5 555.2L537.7 556.1L538 556.9L538.2 556.6L538.5 557.7L538.7 558.4L539 559.3L539.2 559L539.5 558.4L539.7 558.6L540 558.7L540.2 559.7L540.5 559.6L540.7 560.8L541 560.9L541.2 560.9L541.5 561L541.7 560.9L542 561.8L542.2 561L542.5 562.4L542.7 562.1L543 562.5L543.2 562.1L543.5 562.1L543.7 562.7L544 563.6L544.2 563.9L544.5 564.2L544.7 563.5L545 564.3L545.2 565L545.5 565.4L545.7 565.5L546 564.9L546.2 565.2L546.5 564.8L546.7 565.5L547 565.8L547.2 565.8L547.5 566.2L547.7 566.2L548 566.6L548.2 566.2L548.5 566.6L549 566.6L549.2 566.4L549.5 566.8L549.7 566.8L550 567.4L550.2 567.8L550.5 567.8L550.7 567.7L551 567.3L551.2 567.8L551.5 568L551.7 568.4L552 568.5L552.2 568.3L552.5 568.3L552.7 568.4L553 568.6L553.2 568.5L553.5 568.7L553.7 568.9L554 569.1L554.2 569.1L554.5 569L554.7 569.3L555 569.4L555.2 569.5L555.5 569.2L555.7 569L556 569L556.2 569.3L556.5 569.4L556.7 569.5L557 569.7L557.2 569.8L557.5 569.7L557.7 569.6L558.2 569.6L558.5 569.7L558.7 569.7L559 569.6L559.2 569.6L559.5 569.8L559.7 569.9L560.5 569.9L560.7 570L561.2 570L561.5 570.1L561.7 570.1L562 570.2L562.2 570.2L562.5 570.3L562.7 570.3L563 570.4L563.2 570.5L563.5 570.5L563.7 570.6L564 570.7L564.2 570.8L564.5 570.8L564.7 570.9L565 571L565.2 571.1L565.5 571.2L565.7 571.3L566 571.4L566.2 571.6L566.5 571.3L566.7 571.1L567 571L567.2 571.1L567.5 571.3L567.7 571.7L568 571.7L568.2 571.5L568.5 571.4L568.7 571.3L569 571.5L569.2 571.7L570.5 571.7L570.7 571.6L571 571.5L571.2 571L571.5 571.1L571.7 571.3L572.2 571.3L572.5 571.4L572.7 571.3L573 571.2L573.2 571.6L573.5 571.4L573.7 571.7L574 571.6L574.2 571.7L575 571.7L575.2 571.5L575.5 571.4L575.7 571.3L576 571.5L576.2 571.6L576.5 571.3L576.7 570.9L577 570.7L577.2 570.6L577.5 571L577.7 571.2L578 571.5L578.2 571.7L578.5 571.3L578.7 571.4L579 571.3L579.2 571.5L579.5 571.7L579.7 571.7L580 571.4L580.2 571.3L580.5 571.1L580.7 570.8L581 571.1L581.2 571.4L581.5 571.6L581.7 571.6L582 571.5L582.2 571.1L582.5 570.8L582.7 571.1L583 571.5L583.2 571.2L583.5 571.7L583.7 571.6L584 571.1L584.2 571.3L584.7 571.3L585 571.4L585 571.7Z" fill="#1c9d40"/>
<path d="M466.7 571.7L466.7 563.9L466.9 563.4L467.2 562.8L467.4 562.2L467.7 561.5L467.9 560.8L468.2 560.1L468.4 559.2L468.7 558.4L468.9 557.4L469.2 556.4L469.4 555.4L469.7 554.2L469.9 552.9L470.2 551.4L470.4 549.8L470.7 548.2L470.9 546.5L471.2 544.8L471.4 543.1L471.7 541.2L471.9 539.4L472.2 537.4L472.4 535.3L472.7 533.2L472.9 530.9L473.2 528.4L473.4 525.8L473.7 523.1L473.9 520.1L474.2 517L474.4 513.6L474.7 510L474.9 506.1L475.2 501.8L475.4 497.2L475.7 492.3L475.9 486.9L476.2 480.9L476.4 474.4L476.7 467L476.9 458.9L477.2 449.9L477.4 439L477.7 427.6L477.9 418.2L478.2 411.5L478.4 405.1L478.7 399.2L478.9 393.7L479.2 388.9L479.4 384.6L479.7 381.2L479.9 378.5L480.2 376.7L480.4 375.4L480.7 374.4L480.9 373.4L481.2 372.3L481.4 371.2L481.7 370L481.9 368.9L482.2 367.9L482.4 367L482.7 365.7L482.9 362.7L483.2 351.6L483.4 351.1L483.7 352.2L483.9 364.4L484.2 366.2L484.4 367.2L484.7 367.9L484.9 368.5L485.2 369.3L485.4 370.1L485.7 370.9L485.9 371.6L486.2 372.6L486.4 373.3L486.7 374.4L486.9 375.8L487.2 376.5L487.4 378.8L487.7 381.1L487.9 384.5L488.2 387.6L488.4 391L488.7 395.6L488.9 399.7L489.2 403.7L489.4 408.1L489.7 412.4L489.9 416.7L490.2 419.7L490.4 422.3L490.7 424.9L490.9 427.2L491.2 429.5L491.4 431.4L491.7 434L491.9 437.1L492.2 440.2L492.4 442.7L492.7 445.9L492.9 449L493.2 452.5L493.4 456.6L493.7 462.3L493.9 468.5L494.2 472.8L494.4 476.7L494.7 479.5L494.9 481.2L495.2 483.7L495.4 485.6L495.7 488L495.9 489.9L496.2 492.5L496.4 495.1L496.7 497.1L496.9 500.1L497.2 502.1L497.4 504.9L497.7 506.8L497.9 508.9L498.2 509.8L498.4 511.3L498.7 512.7L498.9 514.2L499.2 515.8L499.4 517.5L499.7 519.6L499.9 522.2L500.2 524.9L500.4 527.5L500.7 529.7L500.9 531.4L501.2 533.3L501.4 533.1L501.7 534.6L501.9 536.1L502.2 538.3L502.4 540.2L502.7 540.7L502.9 540.7L503.2 541.8L503.4 542.5L503.7 544.6L503.9 545.1L504.2 546L504.4 545.7L504.7 545.8L504.9 546.5L505.2 547.4L505.4 548.5L505.7 548.5L505.9 548.2L506.2 548.1L506.4 548.9L506.7 548.7L506.9 548.1L507.2 549.2L507.4 550.4L507.7 551.8L507.9 551.6L508.2 552.5L508.4 553.1L508.7 553.7L508.9 553.9L509.2 553.8L509.4 553L509.7 552.4L509.9 552.1L510.2 553.1L510.4 552.9L510.7 553.4L510.9 552.9L511.2 553.2L511.4 552.6L511.7 553.1L511.9 553.2L512.2 552.7L512.5 552.1L512.7 552.3L513 552.7L513.2 553.4L513.5 553.9L513.7 554.1L514 553.7L514.2 553.2L514.5 553.6L514.7 553.7L515 554.3L515.2 555.2L515.5 555.4L515.7 556.6L516 556.9L516.2 558.5L516.5 558.1L516.7 559.1L517 557.8L517.2 558L517.5 556.9L517.7 557.5L518 556.1L518.2 554.9L518.5 554.2L518.7 552.4L519 551.5L519.2 550.4L519.5 550.9L519.7 551.5L520 551.4L520.2 551.6L520.5 551.6L520.7 552.6L521 552.8L521.2 553.6L521.5 553.1L521.7 553L522 553L522.2 552.6L522.5 553.3L522.7 553.6L523 554.8L523.2 554.4L523.7 554.4L524 554.6L524.2 555.3L524.5 556.8L524.7 557.9L525 557.7L525.2 556.2L525.5 555.5L525.7 555.7L526 556.6L526.2 557L526.5 557.7L526.7 556.5L527 556.5L527.2 554.9L527.5 555.5L527.7 554.8L528 554.3L528.2 553.3L528.5 552L528.7 551L529 550.1L529.2 550.5L529.5 550.8L529.7 551.6L530 551.6L530.2 552.7L530.5 551.4L530.7 552L531 551.7L531.2 553.2L531.5 553.4L531.7 554.6L532 554.8L532.2 555.1L532.5 553.9L532.7 555L533 555.1L533.2 555.8L533.5 555.2L533.7 555.1L534 556.1L534.2 555.6L534.5 555.9L534.7 555.7L535 556.5L535.2 556.1L535.5 556.2L535.7 555.4L536 554.5L536.2 553.5L536.5 554.4L536.7 556.3L537 556.1L537.2 555.2L537.5 555.2L537.7 556.1L538 556.9L538.2 556.6L538.5 557.7L538.7 558.4L539 559.3L539.2 559L539.5 558.4L539.7 558.6L540 558.7L540.2 559.7L540.5 559.6L540.7 560.8L541 560.9L541.2 560.9L541.5 561L541.7 560.9L542 561.8L542.2 561L542.5 562.4L542.7 562.1L543 562.5L543.2 562.1L543.5 562.1L543.7 562.7L544 563.6L544.2 563.9L544.5 564.2L544.7 563.5L545 564.3L545.2 565L545.5 565.4L545.7 565.5L546 564.9L546.2 565.2L546.5 564.8L546.7 565.5L547 565.8L547.2 565.8L547.5 566.2L547.7 566.2L548 566.6L548.2 566.2L548.5 566.6L549 566.6L549.2 566.4L549.5 566.8L549.7 566.8L550 567.4L550.2 567.8L550.5 567.8L550.7 567.7L551 567.3L551.2 567.8L551.5 568L551.7 568.4L552 568.5L552.2 568.3L552.5 568.3L552.7 568.4L553 568.6L553.2 568.5L553.5 568.7L553.7 568.9L554 569.1L554.2 569.1L554.5 569L554.7 569.3L555 569.4L555.2 569.5L555.5 569.2L555.7 569L556 569L556.2 569.3L556.5 569.4L556.7 569.5L557 569.7L557.2 569.8L557.5 569.7L557.7 569.6L558.2 569.6L558.5 569.7L558.7 569.7L559 569.6L559.2 569.6L559.5 569.8L559.7 569.9L560.5 569.9L560.7 570L561.2 570L561.5 570.1L561.7 570.1L562 570.2L562.2 570.2L562.5 570.3L562.7 570.3L563 570.4L563.2 570.5L563.5 570.5L563.7 570.6L564 570.7L564.2 570.8L564.5 570.8L564.7 570.9L565 571L565.2 571.1L565.5 571.2L565.7 571.3L566 571.4L566.2 571.6L566.5 571.3L566.7 571.1L567 571L567.2 571.1L567.5 571.3L567.7 571.7L568 571.7L568.2 571.5L568.5 571.4L568.7 571.3L569 571.5L569.2 571.7L570.5 571.7L570.7 571.6L571 571.5L571.2 571L571.5 571.1L571.7 571.3L572.2 571.3L572.5 571.4L572.7 571.3L573 571.2L573.2 571.6L573.5 571.4L573.7 571.7L574 571.6L574.2 571.7L575 571.7L575.2 571.5L575.5 571.4L575.7 571.3L576 571.5L576.2 571.6L576.5 571.3L576.7 570.9L577 570.7L577.2 570.6L577.5 571L577.7 571.2L578 571.5L578.2 571.7L578.5 571.3L578.7 571.4L579 571.3L579.2 571.5L579.5 571.7L579.7 571.7L580 571.4L580.2 571.3L580.5 571.1L580.7 570.8L581 571.1L581.2 571.4L581.5 571.6L581.7 571.6L582 571.5L582.2 571.1L582.5 570.8L582.7 571.1L583 571.5L583.2 571.2L583.5 571.7L583.7 571.6L584 571.1L584.2 571.3L584.7 571.3L585 571.4L585 571.7Z" fill="#2c9fd9"/>
<path d="M499.6 571.7L499.6 518.8L499.7 519.6L499.9 522.2L500.2 524.9L500.4 527.5L500.7 529.7L500.9 531.4L501.2 533.3L501.4 533.1L501.7 534.6L501.9 536.1L502.2 538.3L502.4 540.2L502.7 540.7L502.9 540.7L503.2 541.8L503.4 542.5L503.7 544.6L503.9 545.1L504.2 546L504.4 545.7L504.7 545.8L504.9 546.5L505.2 547.4L505.4 548.5L505.7 548.5L505.9 548.2L506.2 548.1L506.4 548.9L506.7 548.7L506.9 548.1L507.2 549.2L507.4 550.4L507.7 551.8L507.9 551.6L508.2 552.5L508.4 553.1L508.7 553.7L508.9 553.9L509.2 553.8L509.4 553L509.7 552.4L509.9 552.1L510.2 553.1L510.4 552.9L510.7 553.4L510.9 552.9L511.2 553.2L511.4 552.6L511.7 553.1L511.9 553.2L512.2 552.7L512.5 552.1L512.7 552.3L513 552.7L513.2 553.4L513.5 553.9L513.7 554.1L514 553.7L514.2 553.2L514.5 553.6L514.7 553.7L515 554.3L515.2 555.2L515.5 555.4L515.7 556.6L516 556.9L516.2 558.5L516.5 558.1L516.7 559.1L517 557.8L517.2 558L517.5 556.9L517.7 557.5L518 556.1L518.2 554.9L518.5 554.2L518.7 552.4L519 551.5L519.2 550.4L519.5 550.9L519.7 551.5L520 551.4L520.2 551.6L520.5 551.6L520.7 552.6L521 552.8L521.2 553.6L521.5 553.1L521.7 553L522 553L522.2 552.6L522.5 553.3L522.7 553.6L523 554.8L523.2 554.4L523.7 554.4L524 554.6L524.2 555.3L524.5 556.8L524.7 557.9L525 557.7L525.2 556.2L525.5 555.5L525.7 555.7L526 556.6L526.2 557L526.5 557.7L526.7 556.5L527 556.5L527.2 554.9L527.5 555.5L527.7 554.8L528 554.3L528.2 553.3L528.5 552L528.7 551L529 550.1L529.2 550.5L529.5 550.8L529.7 551.6L530 551.6L530.2 552.7L530.5 551.4L530.7 552L531 551.7L531.2 553.2L531.5 553.4L531.7 554.6L532 554.8L532.2 555.1L532.5 553.9L532.7 555L533 555.1L533.2 555.8L533.5 555.2L533.7 555.1L534 556.1L534.2 555.6L534.5 555.9L534.7 555.7L535 556.5L535.2 556.1L535.5 556.2L535.7 555.4L536 554.5L536.2 553.5L536.5 554.4L536.7 556.3L537 556.1L537.2 555.2L537.5 555.2L537.7 556.1L538 556.9L538.2 556.6L538.5 557.7L538.7 558.4L539 559.3L539.2 559L539.5 558.4L539.7 558.6L540 558.7L540.2 559.7L540.5 559.6L540.7 560.8L541 560.9L541.2 560.9L541.5 561L541.7 560.9L542 561.8L542.2 561L542.5 562.4L542.7 562.1L543 562.5L543.2 562.1L543.5 562.1L543.7 562.7L544 563.6L544.2 563.9L544.5 564.2L544.7 563.5L545 564.3L545.2 565L545.5 565.4L545.7 565.5L546 564.9L546.2 565.2L546.5 564.8L546.7 565.5L547 565.8L547.2 565.8L547.5 566.2L547.7 566.2L548 566.6L548.2 566.2L548.5 566.6L549 566.6L549.2 566.4L549.5 566.8L549.7 566.8L550 567.4L550.2 567.8L550.5 567.8L550.7 567.7L551 567.3L551.2 567.8L551.5 568L551.7 568.4L552 568.5L552.2 568.3L552.5 568.3L552.7 568.4L553 568.6L553.2 568.5L553.5 568.7L553.7 568.9L554 569.1L554.2 569.1L554.5 569L554.7 569.3L555 569.4L555.2 569.5L555.5 569.2L555.7 569L556 569L556.2 569.3L556.5 569.4L556.7 569.5L557 569.7L557.2 569.8L557.5 569.7L557.7 569.6L558.2 569.6L558.5 569.7L558.7 569.7L559 569.6L559.2 569.6L559.5 569.8L559.7 569.9L560.5 569.9L560.7 570L561.2 570L561.5 570.1L561.7 570.1L562 570.2L562.2 570.2L562.5 570.3L562.7 570.3L563 570.4L563.2 570.5L563.5 570.5L563.7 570.6L564 570.7L564.2 570.8L564.5 570.8L564.7 570.9L565 571L565.2 571.1L565.5 571.2L565.7 571.3L566 571.4L566.2 571.6L566.5 571.3L566.7 571.1L567 571L567.2 571.1L567.5 571.3L567.7 571.7L568 571.7L568.2 571.5L568.5 571.4L568.7 571.3L569 571.5L569.2 571.7L570.5 571.7L570.7 571.6L571 571.5L571.2 571L571.5 571.1L571.7 571.3L572.2 571.3L572.5 571.4L572.7 571.3L573 571.2L573.2 571.6L573.5 571.4L573.7 571.7L574 571.6L574.2 571.7L575 571.7L575.2 571.5L575.5 571.4L575.7 571.3L576 571.5L576.2 571.6L576.5 571.3L576.7 570.9L577 570.7L577.2 570.6L577.5 571L577.7 571.2L578 571.5L578.2 571.7L578.5 571.3L578.7 571.4L579 571.3L579.2 571.5L579.5 571.7L579.7 571.7L580 571.4L580.2 571.3L580.5 571.1L580.7 570.8L581 571.1L581.2 571.4L581.5 571.6L581.7 571.6L582 571.5L582.2 571.1L582.5 570.8L582.7 571.1L583 571.5L583.2 571.2L583.5 571.7L583.7 571.6L584 571.1L584.2 571.3L584.7 571.3L585 571.4L585 571.7Z" fill="#1946d8"/>
<path d="M526.5 571.7L526.5 557.5L526.7 556.5L527 556.5L527.2 554.9L527.5 555.5L527.7 554.8L528 554.3L528.2 553.3L528.5 552L528.7 551L529 550.1L529.2 550.5L529.5 550.8L529.7 551.6L530 551.6L530.2 552.7L530.5 551.4L530.7 552L531 551.7L531.2 553.2L531.5 553.4L531.7 554.6L532 554.8L532.2 555.1L532.5 553.9L532.7 555L533 555.1L533.2 555.8L533.5 555.2L533.7 555.1L534 556.1L534.2 555.6L534.5 555.9L534.7 555.7L535 556.5L535.2 556.1L535.5 556.2L535.7 555.4L536 554.5L536.2 553.5L536.5 554.4L536.7 556.3L537 556.1L537.2 555.2L537.5 555.2L537.7 556.1L538 556.9L538.2 556.6L538.5 557.7L538.7 558.4L539 559.3L539.2 559L539.5 558.4L539.7 558.6L540 558.7L540.2 559.7L540.5 559.6L540.7 560.8L541 560.9L541.2 560.9L541.5 561L541.7 560.9L542 561.8L542.2 561L542.5 562.4L542.7 562.1L543 562.5L543.2 562.1L543.5 562.1L543.7 562.7L544 563.6L544.2 563.9L544.5 564.2L544.7 563.5L545 564.3L545.2 565L545.5 565.4L545.7 565.5L546 564.9L546.2 565.2L546.5 564.8L546.7 565.5L547 565.8L547.2 565.8L547.5 566.2L547.7 566.2L548 566.6L548.2 566.2L548.5 566.6L549 566.6L549.2 566.4L549.5 566.8L549.7 566.8L550 567.4L550.2 567.8L550.5 567.8L550.7 567.7L551 567.3L551.2 567.8L551.5 568L551.7 568.4L552 568.5L552.2 568.3L552.5 568.3L552.7 568.4L553 568.6L553.2 568.5L553.5 568.7L553.7 568.9L554 569.1L554.2 569.1L554.5 569L554.7 569.3L555 569.4L555.2 569.5L555.5 569.2L555.7 569L556 569L556.2 569.3L556.5 569.4L556.7 569.5L557 569.7L557.2 569.8L557.5 569.7L557.7 569.6L558.2 569.6L558.5 569.7L558.7 569.7L559 569.6L559.2 569.6L559.5 569.8L559.7 569.9L560.5 569.9L560.7 570L561.2 570L561.5 570.1L561.7 570.1L562 570.2L562.2 570.2L562.5 570.3L562.7 570.3L563 570.4L563.2 570.5L563.5 570.5L563.7 570.6L564 570.7L564.2 570.8L564.5 570.8L564.7 570.9L565 571L565.2 571.1L565.5 571.2L565.7 571.3L566 571.4L566.2 571.6L566.5 571.3L566.7 571.1L567 571L567.2 571.1L567.5 571.3L567.7 571.7L568 571.7L568.2 571.5L568.5 571.4L568.7 571.3L569 571.5L569.2 571.7L570.5 571.7L570.7 571.6L571 571.5L571.2 571L571.5 571.1L571.7 571.3L572.2 571.3L572.5 571.4L572.7 571.3L573 571.2L573.2 571.6L573.5 571.4L573.7 571.7L574 571.6L574.2 571.7L575 571.7L575.2 571.5L575.5 571.4L575.7 571.3L576 571.5L576.2 571.6L576.5 571.3L576.7 570.9L577 570.7L577.2 570.6L577.5 571L577.7 571.2L578 571.5L578.2 571.7L578.5 571.3L578.7 571.4L579 571.3L579.2 571.5L579.5 571.7L579.7 571.7L580 571.4L580.2 571.3L580.5 571.1L580.7 570.8L581 571.1L581.2 571.4L581.5 571.6L581.7 571.6L582 571.5L582.2 571.1L582.5 570.8L582.7 571.1L583 571.5L583.2 571.2L583.5 571.7L583.7 571.6L584 571.1L584.2 571.3L584.7 571.3L585 571.4L585 571.7Z" fill="#c2494c"/>
<path d="M566 571.7L566 571.4L566.2 571.6L566.5 571.3L566.7 571.1L567 571L567.2 571.1L567.5 571.3L567.7 571.7L568 571.7L568.2 571.5L568.5 571.4L568.7 571.3L569 571.5L569.2 571.7L570.5 571.7L570.7 571.6L571 571.5L571.2 571L571.5 571.1L571.7 571.3L572.2 571.3L572.5 571.4L572.7 571.3L573 571.2L573.2 571.6L573.5 571.4L573.7 571.7L574 571.6L574.2 571.7L575 571.7L575.2 571.5L575.5 571.4L575.7 571.3L576 571.5L576.2 571.6L576.5 571.3L576.7 570.9L577 570.7L577.2 570.6L577.5 571L577.7 571.2L578 571.5L578.2 571.7L578.5 571.3L578.7 571.4L579 571.3L579.2 571.5L579.5 571.7L579.7 571.7L580 571.4L580.2 571.3L580.5 571.1L580.7 570.8L581 571.1L581.2 571.4L581.5 571.6L581.7 571.6L582 571.5L582.2 571.1L582.5 570.8L582.7 571.1L583 571.5L583.2 571.2L583.5 571.7L583.7 571.6L584 571.1L584.2 571.3L584.7 571.3L585 571.4L585 571.7Z" fill="#35c8ee"/>
<path d="M414.2 476.3L414.4 480.2L414.7 497.6L414.9 510.8L415.2 521.8L415.4 530L415.7 536.2L415.9 542L416.2 546.7L416.4 551L416.7 553.6L416.9 554.9L417.2 556.2L417.4 557.5L417.7 559.4L417.9 560.4L418.2 561.2L418.4 561.6L418.7 561.7L418.9 562.5L419.2 563.4L419.4 563.5L419.7 564.2L419.9 564.6L420.2 564.7L420.4 565.2L420.7 565.6L420.9 565.3L421.2 564.9L421.4 565.3L421.7 564.5L421.9 563.7L422.2 564.4L422.4 564.2L422.7 565.5L422.9 566.9L423.2 566.5L423.4 565.9L423.7 565.5L423.9 565.2L424.2 565.6L424.4 566.4L424.7 566.2L424.9 567.3L425.2 567.5L425.4 568.1L425.7 567.7L425.9 567.1L426.2 566.7L426.4 566L426.7 566.9L426.9 566.9L427.2 567.2L427.4 567.8L427.7 567.5L427.9 567L428.2 566.4L428.4 566.2L428.7 566.2L428.9 567.8L429.2 568.6L429.4 569.1L429.7 569.5L429.9 568.4L430.2 568.9L430.4 567.7L430.7 567.3L430.9 567.1L431.2 566.2L431.4 567.1L431.7 567.3L431.9 568.2L432.2 568.5L432.4 568.3L432.7 568.4L432.9 567.4L433.2 566.8L433.4 566L433.7 565.6L433.9 566.4L434.2 566.5L434.4 567.1L434.7 567.1L434.9 566.3L435.2 566.4L435.4 566.8L435.7 567.5L435.9 568.4L436.2 568.9L436.4 568.4L436.7 567.2L436.9 567L437.2 566.8L437.4 567.5L437.7 568.3L437.9 568L438.4 568L438.7 567.6L438.9 568.7L439.2 569.1L439.4 569.1L439.7 568.9L439.9 568.6L440.2 567.9L440.4 566.9L440.7 567.2L440.9 567L441.2 567.8L441.4 567.7L441.7 567.8L441.9 567.4L442.2 566.9L442.4 567.9L442.7 567.7L442.9 568.5L443.2 567.8L443.4 567.9L443.7 568.1L443.9 567.6L444.2 568.4L444.4 567.7L444.7 568.4L444.9 568.2L445.2 567.6L445.4 568.2L445.7 567.7L445.9 567.3L446.2 567.9L446.4 568.4L446.7 567.5L446.9 567.5L447.2 567.8L447.4 566.8L447.7 567.2L447.9 568L448.2 568.6L448.4 569L448.7 568.6L448.9 568.6L449.2 567.9L449.4 568.2L449.7 568.9L449.9 568.5L450.2 567.5L450.4 567.7L450.7 567.3L450.9 567.1L451.2 567.8L451.4 567.1L451.7 567.3L451.9 567.4L452.2 567.6L452.4 568.3L452.7 567.9L452.9 567.7L453.2 567.6L453.4 567.1L453.7 568.3L453.9 569L454.2 569.1L454.4 568.2L454.7 567.6L454.9 567.1L455.2 566.3L455.4 567.4L455.7 567.3L455.9 567.4L456.2 567.7L456.4 567.6L456.7 567.7L456.9 568.2L457.2 568.9L457.4 569.2L457.7 569.3L457.9 569.5L458.2 568.8L458.4 568.6L458.7 568.5L458.9 567.4L459.2 567.2L459.4 567L459.7 566.9L459.9 567.3L460.2 567.5L460.4 566.7L460.7 566.8L460.9 566.7L461.2 566.8L461.4 567.7L461.7 567L461.9 566.9L462.2 566.7L462.4 567.1L462.7 567.8L462.9 567.7L463.2 567.6L463.4 566.7L463.7 566.9L463.9 566.6L464.2 566.2L464.4 567L464.7 566.2L464.9 565.2L465.2 565.4L465.4 565.4L465.7 565.1L465.9 566.6L466.2 566.1L466.4 564.3L466.7 563.9" fill="none" stroke="#0f7326" stroke-width="0.9" stroke-linejoin="round"/>
<path d="M466.7 563.9L466.9 563.4L467.2 562.8L467.4 562.2L467.7 561.5L467.9 560.8L468.2 560.1L468.4 559.2L468.7 558.4L468.9 557.4L469.2 556.4L469.4 555.4L469.7 554.2L469.9 552.9L470.2 551.4L470.4 549.8L470.7 548.2L470.9 546.5L471.2 544.8L471.4 543.1L471.7 541.2L471.9 539.4L472.2 537.4L472.4 535.3L472.7 533.2L472.9 530.9L473.2 528.4L473.4 525.8L473.7 523.1L473.9 520.1L474.2 517L474.4 513.6L474.7 510L474.9 506.1L475.2 501.8L475.4 497.2L475.7 492.3L475.9 486.9L476.2 480.9L476.4 474.4L476.7 467L476.9 458.9L477.2 449.9L477.4 439L477.7 427.6L477.9 418.2L478.2 411.5L478.4 405.1L478.7 399.2L478.9 393.7L479.2 388.9L479.4 384.6L479.7 381.2L479.9 378.5L480.2 376.7L480.4 375.4L480.7 374.4L480.9 373.4L481.2 372.3L481.4 371.2L481.7 370L481.9 368.9L482.2 367.9L482.4 367L482.7 365.7L482.9 362.7L483.2 351.6L483.4 351.1L483.7 352.2L483.9 364.4L484.2 366.2L484.4 367.2L484.7 367.9L484.9 368.5L485.2 369.3L485.4 370.1L485.7 370.9L485.9 371.6L486.2 372.6L486.4 373.3L486.7 374.4L486.9 375.8L487.2 376.5L487.4 378.8L487.7 381.1L487.9 384.5L488.2 387.6L488.4 391L488.7 395.6L488.9 399.7L489.2 403.7L489.4 408.1L489.7 412.4L489.9 416.7L490.2 419.7L490.4 422.3L490.7 424.9L490.9 427.2L491.2 429.5L491.4 431.4L491.7 434L491.9 437.1L492.2 440.2L492.4 442.7L492.7 445.9L492.9 449L493.2 452.5L493.4 456.6L493.7 462.3L493.9 468.5L494.2 472.8L494.4 476.7L494.7 479.5L494.9 481.2L495.2 483.7L495.4 485.6L495.7 488L495.9 489.9L496.2 492.5L496.4 495.1L496.7 497.1L496.9 500.1L497.2 502.1L497.4 504.9L497.7 506.8L497.9 508.9L498.2 509.8L498.4 511.3L498.7 512.7L498.9 514.2L499.2 515.8L499.4 517.5L499.6 518.8" fill="none" stroke="#20c6f2" stroke-width="0.9" stroke-linejoin="round"/>
<path d="M499.6 518.8L499.7 519.6L499.9 522.2L500.2 524.9L500.4 527.5L500.7 529.7L500.9 531.4L501.2 533.3L501.4 533.1L501.7 534.6L501.9 536.1L502.2 538.3L502.4 540.2L502.7 540.7L502.9 540.7L503.2 541.8L503.4 542.5L503.7 544.6L503.9 545.1L504.2 546L504.4 545.7L504.7 545.8L504.9 546.5L505.2 547.4L505.4 548.5L505.7 548.5L505.9 548.2L506.2 548.1L506.4 548.9L506.7 548.7L506.9 548.1L507.2 549.2L507.4 550.4L507.7 551.8L507.9 551.6L508.2 552.5L508.4 553.1L508.7 553.7L508.9 553.9L509.2 553.8L509.4 553L509.7 552.4L509.9 552.1L510.2 553.1L510.4 552.9L510.7 553.4L510.9 552.9L511.2 553.2L511.4 552.6L511.7 553.1L511.9 553.2L512.2 552.7L512.5 552.1L512.7 552.3L513 552.7L513.2 553.4L513.5 553.9L513.7 554.1L514 553.7L514.2 553.2L514.5 553.6L514.7 553.7L515 554.3L515.2 555.2L515.5 555.4L515.7 556.6L516 556.9L516.2 558.5L516.5 558.1L516.7 559.1L517 557.8L517.2 558L517.5 556.9L517.7 557.5L518 556.1L518.2 554.9L518.5 554.2L518.7 552.4L519 551.5L519.2 550.4L519.5 550.9L519.7 551.5L520 551.4L520.2 551.6L520.5 551.6L520.7 552.6L521 552.8L521.2 553.6L521.5 553.1L521.7 553L522 553L522.2 552.6L522.5 553.3L522.7 553.6L523 554.8L523.2 554.4L523.7 554.4L524 554.6L524.2 555.3L524.5 556.8L524.7 557.9L525 557.7L525.2 556.2L525.5 555.5L525.7 555.7L526 556.6L526.2 557L526.5 557.7L526.5 557.5" fill="none" stroke="#1d1df0" stroke-width="0.9" stroke-linejoin="round"/>
<path d="M526.5 557.5L526.7 556.5L527 556.5L527.2 554.9L527.5 555.5L527.7 554.8L528 554.3L528.2 553.3L528.5 552L528.7 551L529 550.1L529.2 550.5L529.5 550.8L529.7 551.6L530 551.6L530.2 552.7L530.5 551.4L530.7 552L531 551.7L531.2 553.2L531.5 553.4L531.7 554.6L532 554.8L532.2 555.1L532.5 553.9L532.7 555L533 555.1L533.2 555.8L533.5 555.2L533.7 555.1L534 556.1L534.2 555.6L534.5 555.9L534.7 555.7L535 556.5L535.2 556.1L535.5 556.2L535.7 555.4L536 554.5L536.2 553.5L536.5 554.4L536.7 556.3L537 556.1L537.2 555.2L537.5 555.2L537.7 556.1L538 556.9L538.2 556.6L538.5 557.7L538.7 558.4L539 559.3L539.2 559L539.5 558.4L539.7 558.6L540 558.7L540.2 559.7L540.5 559.6L540.7 560.8L541 560.9L541.2 560.9L541.5 561L541.7 560.9L542 561.8L542.2 561L542.5 562.4L542.7 562.1L543 562.5L543.2 562.1L543.5 562.1L543.7 562.7L544 563.6L544.2 563.9L544.5 564.2L544.7 563.5L545 564.3L545.2 565L545.5 565.4L545.7 565.5L546 564.9L546.2 565.2L546.5 564.8L546.7 565.5L547 565.8L547.2 565.8L547.5 566.2L547.7 566.2L548 566.6L548.2 566.2L548.5 566.6L549 566.6L549.2 566.4L549.5 566.8L549.7 566.8L550 567.4L550.2 567.8L550.5 567.8L550.7 567.7L551 567.3L551.2 567.8L551.5 568L551.7 568.4L552 568.5L552.2 568.3L552.5 568.3L552.7 568.4L553 568.6L553.2 568.5L553.5 568.7L553.7 568.9L554 569.1L554.2 569.1L554.5 569L554.7 569.3L555 569.4L555.2 569.5L555.5 569.2L555.7 569L556 569L556.2 569.3L556.5 569.4L556.7 569.5L557 569.7L557.2 569.8L557.5 569.7L557.7 569.6L558.2 569.6L558.5 569.7L558.7 569.7L559 569.6L559.2 569.6L559.5 569.8L559.7 569.9L560.5 569.9L560.7 570L561.2 570L561.5 570.1L561.7 570.1L562 570.2L562.2 570.2L562.5 570.3L562.7 570.3L563 570.4L563.2 570.5L563.5 570.5L563.7 570.6L564 570.7L564.2 570.8L564.5 570.8L564.7 570.9L565 571L565.2 571.1L565.5 571.2L565.7 571.3L566 571.4L566 571.4" fill="none" stroke="#ff2222" stroke-width="0.9" stroke-linejoin="round"/>
<path d="M414.2 307.3H681.7V571.7" fill="none" stroke="#5c5c5c" stroke-width="1.3"/>
<path d="M414.2 306.8V571.7H682.2" fill="none" stroke="#595959" stroke-width="1.2"/>
<path d="M414.2 571.7v3.8M493.9 571.7v3.8M573.6 571.7v3.8M653.3 571.7v3.8M430.1 571.7v2.2M446.1 571.7v2.2M462 571.7v2.2M478 571.7v2.2M509.8 571.7v2.2M525.8 571.7v2.2M541.7 571.7v2.2M557.7 571.7v2.2M589.5 571.7v2.2M605.5 571.7v2.2M621.4 571.7v2.2M637.4 571.7v2.2M669.2 571.7v2.2M414.2 571.7h-4M414.2 518.2h-4M414.2 464.7h-4M414.2 411.2h-4M414.2 357.7h-4M414.2 561h-2.4M414.2 550.3h-2.4M414.2 539.6h-2.4M414.2 528.9h-2.4M414.2 507.5h-2.4M414.2 496.8h-2.4M414.2 486.1h-2.4M414.2 475.4h-2.4M414.2 454h-2.4M414.2 443.3h-2.4M414.2 432.6h-2.4M414.2 421.9h-2.4M414.2 400.5h-2.4M414.2 389.8h-2.4M414.2 379.1h-2.4M414.2 368.4h-2.4M414.2 347h-2.4M414.2 336.3h-2.4M414.2 325.6h-2.4M414.2 314.9h-2.4" stroke="#595959" stroke-width="1" fill="none"/>
<text x="414.2" y="584.2" font-size="7" text-anchor="middle" fill="#505050">0</text>
<text x="493.9" y="584.2" font-size="7" text-anchor="middle" fill="#505050">50</text>
<text x="573.6" y="584.2" font-size="7" text-anchor="middle" fill="#505050">100</text>
<text x="653.3" y="584.2" font-size="7" text-anchor="middle" fill="#505050">150</text>
<text transform="translate(406.7 571.7) rotate(-90)" font-size="7" text-anchor="middle" fill="#505050">0</text>
<text transform="translate(406.7 518.2) rotate(-90)" font-size="7" text-anchor="middle" fill="#505050">200</text>
<text transform="translate(406.7 464.7) rotate(-90)" font-size="7" text-anchor="middle" fill="#505050">400</text>
<text transform="translate(406.7 411.2) rotate(-90)" font-size="7" text-anchor="middle" fill="#505050">600</text>
<text transform="translate(406.7 357.7) rotate(-90)" font-size="7" text-anchor="middle" fill="#505050">800</text>
<text x="547.4" y="593.8" font-size="6.9" text-anchor="middle" fill="#505050">PE-A</text>
<text x="670.3" y="594.4" font-size="6.9" letter-spacing="0.3" text-anchor="middle" fill="#505050">(x 10<tspan font-size="4.8" dy="-3.1">5</tspan><tspan dy="3.1">)</tspan></text>
<text transform="translate(397.2 439) rotate(-90)" font-size="7.2" text-anchor="middle" fill="#505050">Count</text>
<path d="M414.2 469.8H466.8M466.8 466.2V473.4" stroke="#5f9a5c" stroke-width="1.0" fill="none"/>
<path d="M466.4 346H500.4M466.4 342.6V349.4M500.4 342.6V349.4" stroke="#b863c0" stroke-width="1.0" fill="none"/>
<path d="M499.6 501.7H526.8M499.6 498.2V505.2M526.8 498.2V505.2" stroke="#6666ff" stroke-width="1.0" fill="none"/>
<path d="M526.3 523H565.5M526.3 519.5V526.5M565.5 519.5V526.5" stroke="#ff6666" stroke-width="1.0" fill="none"/>
</g>
<path d="M43 126V637.2H597" stroke="#000" stroke-width="2.4" fill="none" stroke-linejoin="miter"/>
<path d="M43 119.4L38.3 127.6H47.7Z" fill="#000"/>
<path d="M604.6 637.4L596 632.7V642.1Z" fill="#000"/>
<text x="121.4" y="224" font-size="10.6" text-anchor="start" fill="#141414">SubG1</text>
<text x="159.4" y="34.4" font-size="10.6" text-anchor="start" fill="#141414">G<tspan font-size="6.8" dy="1.8">0</tspan><tspan dy="-1.8">/G1</tspan></text>
<text x="218" y="231" font-size="10.6" text-anchor="middle" fill="#141414">S</text>
<text x="243" y="203.6" font-size="10.6" text-anchor="start" fill="#141414">G<tspan font-size="6.8" dy="1.8">2</tspan><tspan dy="-1.8">/M</tspan></text>
<text x="318" y="30" font-size="20" fill="#000">Co</text>
<text x="42.4" y="22.2" font-size="24" fill="#000">A</text>
<text x="427" y="245" font-size="10.6" text-anchor="start" fill="#141414">SubG1</text>
<text x="477" y="27" font-size="10.6" text-anchor="start" fill="#141414">G<tspan font-size="6.8" dy="1.8">0</tspan><tspan dy="-1.8">/G1</tspan></text>
<text x="531" y="210.6" font-size="10.6" text-anchor="middle" fill="#141414">S</text>
<text x="554.2" y="181.3" font-size="10.6" text-anchor="start" fill="#141414">G<tspan font-size="6.8" dy="1.8">2</tspan><tspan dy="-1.8">/M</tspan></text>
<text x="620" y="28.5" font-size="20" fill="#000">Tr</text>
<text x="101.4" y="538" font-size="10.6" text-anchor="start" fill="#141414">SubG1</text>
<text x="141.4" y="331" font-size="10.6" text-anchor="start" fill="#141414">G<tspan font-size="6.8" dy="1.8">0</tspan><tspan dy="-1.8">/G1</tspan></text>
<text x="182.2" y="534.2" font-size="10.6" text-anchor="middle" fill="#141414">S</text>
<text x="197.4" y="507" font-size="10.6" text-anchor="start" fill="#141414">G<tspan font-size="6.8" dy="1.8">2</tspan><tspan dy="-1.8">/M</tspan></text>
<text x="315" y="338.6" font-size="20" fill="#000">Co</text>
<text x="47.3" y="325.2" font-size="24" fill="#000">B</text>
<text x="423" y="457.4" font-size="10.6" text-anchor="start" fill="#141414">SubG1</text>
<text x="464" y="333" font-size="10.6" text-anchor="start" fill="#141414">G<tspan font-size="6.8" dy="1.8">0</tspan><tspan dy="-1.8">/G1</tspan></text>
<text x="523" y="488.9" font-size="10.6" text-anchor="middle" fill="#141414">S</text>
<text x="541.5" y="509" font-size="10.6" text-anchor="start" fill="#141414">G<tspan font-size="6.8" dy="1.8">2</tspan><tspan dy="-1.8">/M</tspan></text>
<text x="612.6" y="331.6" font-size="20" fill="#000">Tr</text>
<text transform="translate(20.8 419.4) rotate(-90)" font-size="25" fill="#000">Events</text>
<text x="398.4" y="666.8" font-size="25" fill="#000">PI</text>
</svg>
</body></html>
